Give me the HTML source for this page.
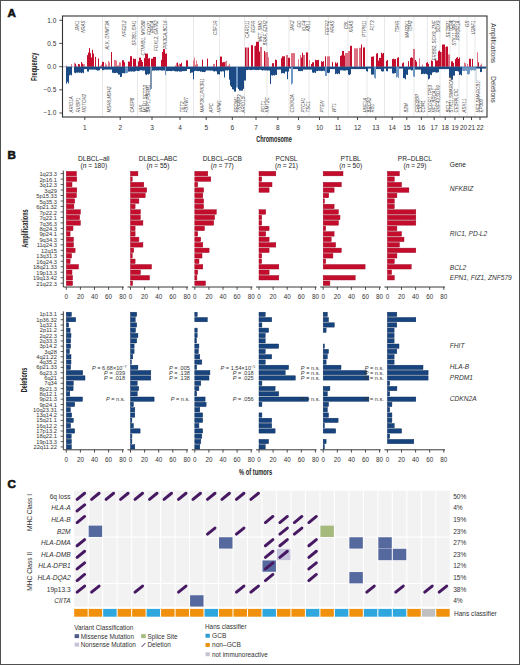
<!DOCTYPE html>
<html><head><meta charset="utf-8"><style>
html,body{margin:0;padding:0;background:#fff;}
svg{display:block;font-family:"Liberation Sans", sans-serif;}
</style></head><body>
<svg width="520" height="665" viewBox="0 0 520 665" font-family='"Liberation Sans", sans-serif'>
<rect width="520" height="665" fill="#fff"/>
<rect x="0.5" y="0.5" width="519" height="664" fill="none" stroke="#505050" stroke-width="1"/><text x="7.6" y="17.3" font-size="11.6" font-weight="bold" fill="#111" stroke="#111" stroke-width="0.6">A</text><text x="7.6" y="159.3" font-size="11.6" font-weight="bold" fill="#111" stroke="#111" stroke-width="0.6">B</text><text x="7.4" y="487.7" font-size="11.6" font-weight="bold" fill="#111" stroke="#111" stroke-width="0.6">C</text><line x1="102.5" y1="16.5" x2="102.5" y2="116.5" stroke="#dedede" stroke-width="0.7"/><line x1="137.5" y1="16.5" x2="137.5" y2="116.5" stroke="#dedede" stroke-width="0.7"/><line x1="166" y1="16.5" x2="166" y2="116.5" stroke="#dedede" stroke-width="0.7"/><line x1="193.5" y1="16.5" x2="193.5" y2="116.5" stroke="#dedede" stroke-width="0.7"/><line x1="219.5" y1="16.5" x2="219.5" y2="116.5" stroke="#dedede" stroke-width="0.7"/><line x1="244.5" y1="16.5" x2="244.5" y2="116.5" stroke="#dedede" stroke-width="0.7"/><line x1="267" y1="16.5" x2="267" y2="116.5" stroke="#dedede" stroke-width="0.7"/><line x1="289" y1="16.5" x2="289" y2="116.5" stroke="#dedede" stroke-width="0.7"/><line x1="309" y1="16.5" x2="309" y2="116.5" stroke="#dedede" stroke-width="0.7"/><line x1="328.5" y1="16.5" x2="328.5" y2="116.5" stroke="#dedede" stroke-width="0.7"/><line x1="348" y1="16.5" x2="348" y2="116.5" stroke="#dedede" stroke-width="0.7"/><line x1="367" y1="16.5" x2="367" y2="116.5" stroke="#dedede" stroke-width="0.7"/><line x1="384.5" y1="16.5" x2="384.5" y2="116.5" stroke="#dedede" stroke-width="0.7"/><line x1="400" y1="16.5" x2="400" y2="116.5" stroke="#dedede" stroke-width="0.7"/><line x1="414" y1="16.5" x2="414" y2="116.5" stroke="#dedede" stroke-width="0.7"/><line x1="427.3" y1="16.5" x2="427.3" y2="116.5" stroke="#dedede" stroke-width="0.7"/><line x1="440" y1="16.5" x2="440" y2="116.5" stroke="#dedede" stroke-width="0.7"/><line x1="450" y1="16.5" x2="450" y2="116.5" stroke="#dedede" stroke-width="0.7"/><line x1="459" y1="16.5" x2="459" y2="116.5" stroke="#dedede" stroke-width="0.7"/><line x1="467" y1="16.5" x2="467" y2="116.5" stroke="#dedede" stroke-width="0.7"/><line x1="475" y1="16.5" x2="475" y2="116.5" stroke="#dedede" stroke-width="0.7"/><g><rect x="66" y="65.40" width="1" height="1.40" fill="#e27586"/><rect x="71" y="64.00" width="1" height="2.80" fill="#e27586"/><rect x="74" y="62.84" width="1" height="3.96" fill="#e27586"/><rect x="75" y="63.71" width="1" height="3.09" fill="#c40d2c"/><rect x="76" y="65.58" width="1" height="1.22" fill="#e27586"/><rect x="78" y="63.97" width="1" height="2.83" fill="#c40d2c"/><rect x="79" y="64.31" width="1" height="2.49" fill="#c40d2c"/><rect x="81" y="61.98" width="1" height="4.82" fill="#c40d2c"/><rect x="82" y="63.59" width="1" height="3.21" fill="#c40d2c"/><rect x="83" y="64.20" width="1" height="2.60" fill="#e27586"/><rect x="84" y="64.20" width="1" height="2.60" fill="#e27586"/><rect x="87" y="55.15" width="1" height="11.65" fill="#c40d2c"/><rect x="88" y="52.51" width="1" height="14.29" fill="#c40d2c"/><rect x="89" y="48.10" width="1" height="18.70" fill="#c40d2c"/><rect x="90" y="53.27" width="1" height="13.53" fill="#c40d2c"/><rect x="91" y="57.46" width="1" height="9.34" fill="#c40d2c"/><rect x="92" y="49.80" width="1" height="17.00" fill="#c40d2c"/><rect x="93" y="53.58" width="1" height="13.22" fill="#c40d2c"/><rect x="95" y="56.87" width="1" height="9.93" fill="#c40d2c"/><rect x="98" y="58.50" width="1" height="8.30" fill="#c40d2c"/><rect x="100" y="65.61" width="1" height="1.19" fill="#e27586"/><rect x="101" y="64.50" width="1" height="2.30" fill="#e27586"/><rect x="102" y="61.90" width="1" height="4.90" fill="#c40d2c"/><rect x="103" y="61.90" width="1" height="4.90" fill="#c40d2c"/><rect x="105" y="62.85" width="1" height="3.95" fill="#e27586"/><rect x="106" y="64.71" width="1" height="2.09" fill="#e27586"/><rect x="108" y="60.95" width="1" height="5.85" fill="#e27586"/><rect x="109" y="62.29" width="1" height="4.51" fill="#e27586"/><rect x="111" y="52.10" width="1" height="14.70" fill="#c40d2c"/><rect x="114" y="59.83" width="1" height="6.97" fill="#e27586"/><rect x="115" y="60.03" width="1" height="6.77" fill="#e27586"/><rect x="116" y="60.83" width="1" height="5.97" fill="#e27586"/><rect x="117" y="65.47" width="1" height="1.33" fill="#e27586"/><rect x="118" y="65.25" width="1" height="1.55" fill="#e27586"/><rect x="119" y="62.21" width="1" height="4.59" fill="#e27586"/><rect x="120" y="62.40" width="1" height="4.40" fill="#e27586"/><rect x="122" y="60.20" width="1" height="6.60" fill="#c40d2c"/><rect x="123" y="60.20" width="1" height="6.60" fill="#c40d2c"/><rect x="124" y="62.26" width="1" height="4.54" fill="#c40d2c"/><rect x="128" y="61.53" width="1" height="5.27" fill="#c40d2c"/><rect x="129" y="61.68" width="1" height="5.12" fill="#c40d2c"/><rect x="130" y="56.20" width="1" height="10.60" fill="#c40d2c"/><rect x="131" y="56.20" width="1" height="10.60" fill="#c40d2c"/><rect x="133" y="58.51" width="1" height="8.29" fill="#c40d2c"/><rect x="134" y="59.09" width="1" height="7.71" fill="#c40d2c"/><rect x="135" y="58.78" width="1" height="8.02" fill="#c40d2c"/><rect x="136" y="65.53" width="1" height="1.27" fill="#e27586"/><rect x="137" y="65.94" width="1" height="0.86" fill="#e27586"/><rect x="138" y="61.41" width="1" height="5.39" fill="#c40d2c"/><rect x="139" y="57.60" width="1" height="9.20" fill="#c40d2c"/><rect x="140" y="57.60" width="1" height="9.20" fill="#c40d2c"/><rect x="141" y="60.09" width="1" height="6.71" fill="#c40d2c"/><rect x="142" y="61.96" width="1" height="4.84" fill="#c40d2c"/><rect x="144" y="58.10" width="1" height="8.70" fill="#c40d2c"/><rect x="145" y="53.60" width="1" height="13.20" fill="#c40d2c"/><rect x="146" y="53.60" width="1" height="13.20" fill="#c40d2c"/><rect x="147" y="53.60" width="1" height="13.20" fill="#c40d2c"/><rect x="148" y="58.56" width="1" height="8.24" fill="#c40d2c"/><rect x="149" y="58.04" width="1" height="8.76" fill="#c40d2c"/><rect x="151" y="58.72" width="1" height="8.08" fill="#c40d2c"/><rect x="152" y="58.67" width="1" height="8.13" fill="#c40d2c"/><rect x="153" y="56.90" width="1" height="9.90" fill="#c40d2c"/><rect x="154" y="56.90" width="1" height="9.90" fill="#c40d2c"/><rect x="155" y="56.90" width="1" height="9.90" fill="#c40d2c"/><rect x="161" y="59.89" width="1" height="6.91" fill="#c40d2c"/><rect x="162" y="52.00" width="1" height="14.80" fill="#c40d2c"/><rect x="163" y="49.10" width="1" height="17.70" fill="#c40d2c"/><rect x="164" y="49.10" width="1" height="17.70" fill="#c40d2c"/><rect x="165" y="53.67" width="1" height="13.13" fill="#c40d2c"/><rect x="166" y="53.45" width="1" height="13.35" fill="#c40d2c"/><rect x="175" y="65.38" width="1" height="1.42" fill="#e27586"/><rect x="176" y="63.07" width="1" height="3.73" fill="#e27586"/><rect x="177" y="62.48" width="1" height="4.32" fill="#c40d2c"/><rect x="178" y="64.76" width="1" height="2.04" fill="#e27586"/><rect x="179" y="63.53" width="1" height="3.27" fill="#e27586"/><rect x="180" y="64.00" width="1" height="2.80" fill="#c40d2c"/><rect x="181" y="62.78" width="1" height="4.02" fill="#c40d2c"/><rect x="182" y="66.30" width="1" height="0.50" fill="#e27586"/><rect x="186" y="60.30" width="1" height="6.50" fill="#c40d2c"/><rect x="187" y="60.30" width="1" height="6.50" fill="#c40d2c"/><rect x="193" y="60.49" width="1" height="6.31" fill="#e27586"/><rect x="194" y="57.57" width="1" height="9.23" fill="#e27586"/><rect x="195" y="64.71" width="1" height="2.09" fill="#e27586"/><rect x="196" y="60.65" width="1" height="6.15" fill="#e27586"/><rect x="197" y="63.97" width="1" height="2.83" fill="#e27586"/><rect x="202" y="59.60" width="1" height="7.20" fill="#c40d2c"/><rect x="207" y="58.60" width="1" height="8.20" fill="#c40d2c"/><rect x="213" y="63.90" width="1" height="2.90" fill="#e27586"/><rect x="214" y="63.90" width="1" height="2.90" fill="#e27586"/><rect x="216" y="60.00" width="1" height="6.80" fill="#c40d2c"/><rect x="220" y="56.52" width="1" height="10.28" fill="#c40d2c"/><rect x="221" y="56.63" width="1" height="10.17" fill="#c40d2c"/><rect x="222" y="62.44" width="1" height="4.36" fill="#c40d2c"/><rect x="223" y="62.04" width="1" height="4.76" fill="#c40d2c"/><rect x="224" y="62.11" width="1" height="4.69" fill="#c40d2c"/><rect x="225" y="61.32" width="1" height="5.48" fill="#e27586"/><rect x="226" y="60.60" width="1" height="6.20" fill="#e27586"/><rect x="227" y="65.86" width="1" height="0.94" fill="#e27586"/><rect x="228" y="65.46" width="1" height="1.34" fill="#e27586"/><rect x="229" y="63.79" width="1" height="3.01" fill="#e27586"/><rect x="245" y="47.50" width="1" height="19.30" fill="#c40d2c"/><rect x="246" y="47.50" width="1" height="19.30" fill="#dd6f82"/><rect x="247" y="47.50" width="1" height="19.30" fill="#dd6f82"/><rect x="248" y="47.50" width="1" height="19.30" fill="#c40d2c"/><rect x="251" y="45.20" width="1" height="21.60" fill="#c40d2c"/><rect x="252" y="45.20" width="1" height="21.60" fill="#c40d2c"/><rect x="254" y="46.00" width="1" height="20.80" fill="#dd6f82"/><rect x="255" y="45.76" width="1" height="21.04" fill="#c40d2c"/><rect x="256" y="41.80" width="1" height="25.00" fill="#c40d2c"/><rect x="257" y="41.80" width="1" height="25.00" fill="#c40d2c"/><rect x="258" y="41.80" width="1" height="25.00" fill="#c40d2c"/><rect x="259" y="51.53" width="1" height="15.27" fill="#c40d2c"/><rect x="260" y="47.00" width="1" height="19.80" fill="#dd6f82"/><rect x="261" y="47.00" width="1" height="19.80" fill="#dd6f82"/><rect x="264" y="51.00" width="1" height="15.80" fill="#c40d2c"/><rect x="265" y="52.20" width="1" height="14.60" fill="#dd6f82"/><rect x="266" y="52.20" width="1" height="14.60" fill="#dd6f82"/><rect x="267" y="52.20" width="1" height="14.60" fill="#dd6f82"/><rect x="268" y="57.30" width="1" height="9.50" fill="#e27586"/><rect x="272" y="63.20" width="1" height="3.60" fill="#c40d2c"/><rect x="273" y="63.21" width="1" height="3.59" fill="#c40d2c"/><rect x="275" y="59.67" width="1" height="7.13" fill="#c40d2c"/><rect x="276" y="59.97" width="1" height="6.83" fill="#c40d2c"/><rect x="281" y="58.18" width="1" height="8.62" fill="#c40d2c"/><rect x="282" y="56.30" width="1" height="10.50" fill="#c40d2c"/><rect x="283" y="56.30" width="1" height="10.50" fill="#c40d2c"/><rect x="284" y="56.30" width="1" height="10.50" fill="#c40d2c"/><rect x="286" y="55.00" width="1" height="11.80" fill="#dd6f82"/><rect x="287" y="55.00" width="1" height="11.80" fill="#dd6f82"/><rect x="288" y="57.81" width="1" height="8.99" fill="#c40d2c"/><rect x="289" y="57.65" width="1" height="9.15" fill="#c40d2c"/><rect x="291" y="53.10" width="1" height="13.70" fill="#dd6f82"/><rect x="292" y="53.10" width="1" height="13.70" fill="#dd6f82"/><rect x="293" y="53.10" width="1" height="13.70" fill="#dd6f82"/><rect x="294" y="53.10" width="1" height="13.70" fill="#dd6f82"/><rect x="298" y="59.32" width="1" height="7.48" fill="#e27586"/><rect x="300" y="55.00" width="1" height="11.80" fill="#dd6f82"/><rect x="301" y="57.62" width="1" height="9.18" fill="#c40d2c"/><rect x="302" y="52.68" width="1" height="14.12" fill="#c40d2c"/><rect x="303" y="55.00" width="1" height="11.80" fill="#dd6f82"/><rect x="304" y="55.00" width="1" height="11.80" fill="#dd6f82"/><rect x="306" y="52.40" width="1" height="14.40" fill="#c40d2c"/><rect x="307" y="52.40" width="1" height="14.40" fill="#c40d2c"/><rect x="309" y="60.02" width="1" height="6.78" fill="#e27586"/><rect x="311" y="64.02" width="1" height="2.78" fill="#c40d2c"/><rect x="312" y="62.36" width="1" height="4.44" fill="#c40d2c"/><rect x="313" y="62.23" width="1" height="4.57" fill="#c40d2c"/><rect x="315" y="59.69" width="1" height="7.11" fill="#c40d2c"/><rect x="316" y="60.17" width="1" height="6.63" fill="#c40d2c"/><rect x="317" y="60.11" width="1" height="6.69" fill="#c40d2c"/><rect x="318" y="59.90" width="1" height="6.90" fill="#c40d2c"/><rect x="321" y="61.24" width="1" height="5.56" fill="#c40d2c"/><rect x="322" y="61.92" width="1" height="4.88" fill="#c40d2c"/><rect x="323" y="61.22" width="1" height="5.58" fill="#c40d2c"/><rect x="325" y="56.30" width="1" height="10.50" fill="#c40d2c"/><rect x="327" y="56.30" width="1" height="10.50" fill="#dd6f82"/><rect x="328" y="56.30" width="1" height="10.50" fill="#dd6f82"/><rect x="329" y="56.30" width="1" height="10.50" fill="#dd6f82"/><rect x="332" y="62.10" width="1" height="4.70" fill="#c40d2c"/><rect x="335" y="62.32" width="1" height="4.48" fill="#c40d2c"/><rect x="336" y="63.46" width="1" height="3.34" fill="#c40d2c"/><rect x="337" y="62.57" width="1" height="4.23" fill="#c40d2c"/><rect x="340" y="55.98" width="1" height="10.82" fill="#c40d2c"/><rect x="341" y="55.32" width="1" height="11.48" fill="#c40d2c"/><rect x="342" y="51.00" width="1" height="15.80" fill="#c40d2c"/><rect x="343" y="51.00" width="1" height="15.80" fill="#c40d2c"/><rect x="344" y="55.52" width="1" height="11.28" fill="#c40d2c"/><rect x="345" y="53.00" width="1" height="13.80" fill="#dd6f82"/><rect x="346" y="53.00" width="1" height="13.80" fill="#dd6f82"/><rect x="347" y="53.00" width="1" height="13.80" fill="#dd6f82"/><rect x="348" y="51.00" width="1" height="15.80" fill="#dd6f82"/><rect x="349" y="51.00" width="1" height="15.80" fill="#dd6f82"/><rect x="350" y="45.80" width="1" height="21.00" fill="#c40d2c"/><rect x="351" y="45.80" width="1" height="21.00" fill="#c40d2c"/><rect x="354" y="48.30" width="1" height="18.50" fill="#dd6f82"/><rect x="355" y="48.30" width="1" height="18.50" fill="#dd6f82"/><rect x="356" y="48.30" width="1" height="18.50" fill="#dd6f82"/><rect x="357" y="48.30" width="1" height="18.50" fill="#dd6f82"/><rect x="359" y="47.80" width="1" height="19.00" fill="#dd6f82"/><rect x="360" y="47.80" width="1" height="19.00" fill="#dd6f82"/><rect x="361" y="44.50" width="1" height="22.30" fill="#c40d2c"/><rect x="363" y="47.40" width="1" height="19.40" fill="#c40d2c"/><rect x="364" y="47.40" width="1" height="19.40" fill="#c40d2c"/><rect x="371" y="56.85" width="1" height="9.95" fill="#c40d2c"/><rect x="372" y="56.62" width="1" height="10.18" fill="#c40d2c"/><rect x="373" y="56.36" width="1" height="10.44" fill="#c40d2c"/><rect x="376" y="53.61" width="1" height="13.19" fill="#c40d2c"/><rect x="377" y="53.22" width="1" height="13.58" fill="#c40d2c"/><rect x="378" y="60.62" width="1" height="6.18" fill="#c40d2c"/><rect x="379" y="57.91" width="1" height="8.89" fill="#c40d2c"/><rect x="380" y="57.91" width="1" height="8.89" fill="#c40d2c"/><rect x="381" y="52.71" width="1" height="14.09" fill="#c40d2c"/><rect x="382" y="53.62" width="1" height="13.18" fill="#c40d2c"/><rect x="383" y="52.89" width="1" height="13.91" fill="#c40d2c"/><rect x="386" y="60.81" width="1" height="5.99" fill="#c40d2c"/><rect x="387" y="60.07" width="1" height="6.73" fill="#c40d2c"/><rect x="392" y="59.09" width="1" height="7.71" fill="#c40d2c"/><rect x="393" y="58.61" width="1" height="8.19" fill="#c40d2c"/><rect x="394" y="59.29" width="1" height="7.51" fill="#c40d2c"/><rect x="395" y="59.00" width="1" height="7.80" fill="#c40d2c"/><rect x="397" y="57.79" width="1" height="9.01" fill="#c40d2c"/><rect x="398" y="57.27" width="1" height="9.53" fill="#c40d2c"/><rect x="402" y="63.26" width="1" height="3.54" fill="#c40d2c"/><rect x="403" y="62.47" width="1" height="4.33" fill="#c40d2c"/><rect x="408" y="61.22" width="1" height="5.58" fill="#c40d2c"/><rect x="410" y="57.92" width="1" height="8.88" fill="#c40d2c"/><rect x="411" y="57.21" width="1" height="9.59" fill="#c40d2c"/><rect x="412" y="57.88" width="1" height="8.92" fill="#c40d2c"/><rect x="413" y="49.00" width="1" height="17.80" fill="#dd6f82"/><rect x="414" y="49.00" width="1" height="17.80" fill="#dd6f82"/><rect x="415" y="60.03" width="1" height="6.77" fill="#c40d2c"/><rect x="416" y="61.65" width="1" height="5.15" fill="#c40d2c"/><rect x="419" y="58.24" width="1" height="8.56" fill="#e27586"/><rect x="422" y="64.50" width="1" height="2.30" fill="#e27586"/><rect x="426" y="62.82" width="1" height="3.98" fill="#c40d2c"/><rect x="427" y="62.14" width="1" height="4.66" fill="#c40d2c"/><rect x="428" y="63.85" width="1" height="2.95" fill="#c40d2c"/><rect x="431" y="60.39" width="1" height="6.41" fill="#c40d2c"/><rect x="432" y="61.12" width="1" height="5.68" fill="#c40d2c"/><rect x="435" y="59.15" width="1" height="7.65" fill="#c40d2c"/><rect x="436" y="60.45" width="1" height="6.35" fill="#c40d2c"/><rect x="437" y="60.44" width="1" height="6.36" fill="#c40d2c"/><rect x="438" y="51.48" width="1" height="15.32" fill="#c40d2c"/><rect x="439" y="50.52" width="1" height="16.28" fill="#c40d2c"/><rect x="440" y="51.83" width="1" height="14.97" fill="#c40d2c"/><rect x="441" y="52.00" width="1" height="14.80" fill="#dd6f82"/><rect x="442" y="44.50" width="1" height="22.30" fill="#c40d2c"/><rect x="443" y="44.50" width="1" height="22.30" fill="#c40d2c"/><rect x="444" y="44.50" width="1" height="22.30" fill="#c40d2c"/><rect x="445" y="47.00" width="1" height="19.80" fill="#dd6f82"/><rect x="446" y="46.50" width="1" height="20.30" fill="#c40d2c"/><rect x="447" y="46.50" width="1" height="20.30" fill="#c40d2c"/><rect x="448" y="54.40" width="1" height="12.40" fill="#dd6f82"/><rect x="449" y="54.40" width="1" height="12.40" fill="#dd6f82"/><rect x="451" y="61.29" width="1" height="5.51" fill="#c40d2c"/><rect x="452" y="61.38" width="1" height="5.42" fill="#c40d2c"/><rect x="453" y="62.96" width="1" height="3.84" fill="#c40d2c"/><rect x="455" y="59.12" width="1" height="7.68" fill="#c40d2c"/><rect x="456" y="57.79" width="1" height="9.01" fill="#c40d2c"/><rect x="457" y="57.06" width="1" height="9.74" fill="#c40d2c"/><rect x="458" y="58.91" width="1" height="7.89" fill="#c40d2c"/><rect x="459" y="57.49" width="1" height="9.31" fill="#c40d2c"/><rect x="464" y="62.44" width="1" height="4.36" fill="#e27586"/><rect x="465" y="63.24" width="1" height="3.56" fill="#e27586"/><rect x="467" y="64.00" width="1" height="2.80" fill="#e27586"/><rect x="469" y="58.80" width="1" height="8.00" fill="#c40d2c"/><rect x="470" y="58.80" width="1" height="8.00" fill="#c40d2c"/><rect x="472" y="58.80" width="1" height="8.00" fill="#c40d2c"/><rect x="477" y="52.30" width="1" height="14.50" fill="#dd6f82"/><rect x="478" y="62.31" width="1" height="4.49" fill="#c40d2c"/><rect x="480" y="65.01" width="1" height="1.79" fill="#e27586"/><rect x="481" y="63.51" width="1" height="3.29" fill="#e27586"/><rect x="66" y="66.80" width="1" height="16.80" fill="#1b4a84"/><rect x="67" y="66.80" width="1" height="14.95" fill="#1b4a84"/><rect x="68" y="66.80" width="1" height="16.54" fill="#1b4a84"/><rect x="69" y="66.80" width="1" height="8.60" fill="#1b4a84"/><rect x="70" y="66.80" width="1" height="7.87" fill="#1b4a84"/><rect x="71" y="66.80" width="1" height="8.54" fill="#1b4a84"/><rect x="74" y="66.80" width="1" height="5.83" fill="#1b4a84"/><rect x="75" y="66.80" width="1" height="6.38" fill="#1b4a84"/><rect x="76" y="66.80" width="1" height="5.82" fill="#1b4a84"/><rect x="77" y="66.80" width="1" height="5.87" fill="#1b4a84"/><rect x="78" y="66.80" width="1" height="5.63" fill="#1b4a84"/><rect x="79" y="66.80" width="1" height="6.00" fill="#1b4a84"/><rect x="80" y="66.80" width="1" height="5.79" fill="#1b4a84"/><rect x="81" y="66.80" width="1" height="6.40" fill="#1b4a84"/><rect x="82" y="66.80" width="1" height="5.70" fill="#1b4a84"/><rect x="83" y="66.80" width="1" height="6.40" fill="#1b4a84"/><rect x="84" y="66.80" width="1" height="2.30" fill="#1b4a84"/><rect x="85" y="66.80" width="1" height="2.30" fill="#1b4a84"/><rect x="86" y="66.80" width="1" height="2.30" fill="#1b4a84"/><rect x="87" y="66.80" width="1" height="4.72" fill="#1b4a84"/><rect x="88" y="66.80" width="1" height="4.79" fill="#1b4a84"/><rect x="89" y="66.80" width="1" height="2.80" fill="#1b4a84"/><rect x="90" y="66.80" width="1" height="2.80" fill="#1b4a84"/><rect x="91" y="66.80" width="1" height="2.80" fill="#1b4a84"/><rect x="92" y="66.80" width="1" height="2.80" fill="#1b4a84"/><rect x="93" y="66.80" width="1" height="2.80" fill="#1b4a84"/><rect x="94" y="66.80" width="1" height="2.80" fill="#1b4a84"/><rect x="95" y="66.80" width="1" height="2.80" fill="#1b4a84"/><rect x="96" y="66.80" width="1" height="3.36" fill="#1b4a84"/><rect x="97" y="66.80" width="1" height="3.75" fill="#1b4a84"/><rect x="98" y="66.80" width="1" height="3.68" fill="#1b4a84"/><rect x="99" y="66.80" width="1" height="3.41" fill="#1b4a84"/><rect x="100" y="66.80" width="1" height="1.80" fill="#1b4a84"/><rect x="101" y="66.80" width="1" height="1.80" fill="#1b4a84"/><rect x="102" y="66.80" width="1" height="3.42" fill="#1b4a84"/><rect x="103" y="66.80" width="1" height="3.33" fill="#1b4a84"/><rect x="104" y="66.80" width="1" height="2.80" fill="#1b4a84"/><rect x="105" y="66.80" width="1" height="2.80" fill="#1b4a84"/><rect x="106" y="66.80" width="1" height="2.80" fill="#1b4a84"/><rect x="107" y="66.80" width="1" height="2.80" fill="#1b4a84"/><rect x="108" y="66.80" width="1" height="2.80" fill="#1b4a84"/><rect x="109" y="66.80" width="1" height="2.80" fill="#1b4a84"/><rect x="110" y="66.80" width="1" height="2.80" fill="#1b4a84"/><rect x="111" y="66.80" width="1" height="2.80" fill="#1b4a84"/><rect x="112" y="66.80" width="1" height="5.97" fill="#1b4a84"/><rect x="113" y="66.80" width="1" height="6.02" fill="#1b4a84"/><rect x="114" y="66.80" width="1" height="6.30" fill="#1b4a84"/><rect x="115" y="66.80" width="1" height="6.15" fill="#1b4a84"/><rect x="116" y="66.80" width="1" height="5.92" fill="#1b4a84"/><rect x="117" y="66.80" width="1" height="6.30" fill="#1b4a84"/><rect x="118" y="66.80" width="1" height="7.80" fill="#1b4a84"/><rect x="119" y="66.80" width="1" height="7.80" fill="#1b4a84"/><rect x="120" y="66.80" width="1" height="10.20" fill="#1b4a84"/><rect x="121" y="66.80" width="1" height="9.88" fill="#1b4a84"/><rect x="122" y="66.80" width="1" height="6.39" fill="#1b4a84"/><rect x="123" y="66.80" width="1" height="6.37" fill="#1b4a84"/><rect x="124" y="66.80" width="1" height="6.61" fill="#1b4a84"/><rect x="125" y="66.80" width="1" height="6.30" fill="#6f97c4"/><rect x="126" y="66.80" width="1" height="6.30" fill="#6f97c4"/><rect x="127" y="66.80" width="1" height="6.11" fill="#6f97c4"/><rect x="128" y="66.80" width="1" height="4.80" fill="#1b4a84"/><rect x="129" y="66.80" width="1" height="4.80" fill="#1b4a84"/><rect x="130" y="66.80" width="1" height="4.61" fill="#1b4a84"/><rect x="131" y="66.80" width="1" height="4.80" fill="#1b4a84"/><rect x="132" y="66.80" width="1" height="4.52" fill="#1b4a84"/><rect x="133" y="66.80" width="1" height="4.80" fill="#1b4a84"/><rect x="134" y="66.80" width="1" height="4.80" fill="#1b4a84"/><rect x="135" y="66.80" width="1" height="4.29" fill="#1b4a84"/><rect x="136" y="66.80" width="1" height="3.79" fill="#1b4a84"/><rect x="137" y="66.80" width="1" height="4.21" fill="#1b4a84"/><rect x="138" y="66.80" width="1" height="4.30" fill="#1b4a84"/><rect x="139" y="66.80" width="1" height="3.89" fill="#1b4a84"/><rect x="140" y="66.80" width="1" height="3.44" fill="#1b4a84"/><rect x="141" y="66.80" width="1" height="3.41" fill="#1b4a84"/><rect x="142" y="66.80" width="1" height="3.80" fill="#1b4a84"/><rect x="143" y="66.80" width="1" height="3.72" fill="#1b4a84"/><rect x="144" y="66.80" width="1" height="3.75" fill="#1b4a84"/><rect x="145" y="66.80" width="1" height="7.53" fill="#1b4a84"/><rect x="146" y="66.80" width="1" height="8.30" fill="#1b4a84"/><rect x="147" y="66.80" width="1" height="7.31" fill="#1b4a84"/><rect x="148" y="66.80" width="1" height="7.75" fill="#1b4a84"/><rect x="149" y="66.80" width="1" height="7.00" fill="#1b4a84"/><rect x="150" y="66.80" width="1" height="23.04" fill="#8196b0"/><rect x="151" y="66.80" width="1" height="22.09" fill="#8196b0"/><rect x="152" y="66.80" width="1" height="3.80" fill="#1b4a84"/><rect x="153" y="66.80" width="1" height="3.77" fill="#1b4a84"/><rect x="154" y="66.80" width="1" height="3.80" fill="#1b4a84"/><rect x="155" y="66.80" width="1" height="3.51" fill="#1b4a84"/><rect x="156" y="66.80" width="1" height="3.80" fill="#1b4a84"/><rect x="157" y="66.80" width="1" height="3.51" fill="#1b4a84"/><rect x="158" y="66.80" width="1" height="3.80" fill="#1b4a84"/><rect x="159" y="66.80" width="1" height="3.39" fill="#1b4a84"/><rect x="160" y="66.80" width="1" height="3.47" fill="#1b4a84"/><rect x="161" y="66.80" width="1" height="3.80" fill="#1b4a84"/><rect x="162" y="66.80" width="1" height="3.80" fill="#1b4a84"/><rect x="163" y="66.80" width="1" height="3.51" fill="#1b4a84"/><rect x="164" y="66.80" width="1" height="3.75" fill="#1b4a84"/><rect x="165" y="66.80" width="1" height="8.41" fill="#6f97c4"/><rect x="166" y="66.80" width="1" height="4.27" fill="#1b4a84"/><rect x="167" y="66.80" width="1" height="4.30" fill="#1b4a84"/><rect x="168" y="66.80" width="1" height="4.16" fill="#1b4a84"/><rect x="169" y="66.80" width="1" height="4.17" fill="#1b4a84"/><rect x="170" y="66.80" width="1" height="4.30" fill="#1b4a84"/><rect x="171" y="66.80" width="1" height="4.30" fill="#1b4a84"/><rect x="172" y="66.80" width="1" height="4.03" fill="#1b4a84"/><rect x="173" y="66.80" width="1" height="3.94" fill="#1b4a84"/><rect x="174" y="66.80" width="1" height="4.30" fill="#1b4a84"/><rect x="175" y="66.80" width="1" height="4.60" fill="#1b4a84"/><rect x="176" y="66.80" width="1" height="4.55" fill="#1b4a84"/><rect x="177" y="66.80" width="1" height="4.80" fill="#1b4a84"/><rect x="178" y="66.80" width="1" height="4.34" fill="#1b4a84"/><rect x="179" y="66.80" width="1" height="4.80" fill="#1b4a84"/><rect x="180" y="66.80" width="1" height="4.75" fill="#1b4a84"/><rect x="181" y="66.80" width="1" height="4.80" fill="#1b4a84"/><rect x="182" y="66.80" width="1" height="4.30" fill="#1b4a84"/><rect x="183" y="66.80" width="1" height="4.30" fill="#1b4a84"/><rect x="184" y="66.80" width="1" height="4.30" fill="#1b4a84"/><rect x="185" y="66.80" width="1" height="4.08" fill="#1b4a84"/><rect x="186" y="66.80" width="1" height="4.17" fill="#1b4a84"/><rect x="187" y="66.80" width="1" height="2.30" fill="#1b4a84"/><rect x="188" y="66.80" width="1" height="2.30" fill="#1b4a84"/><rect x="189" y="66.80" width="1" height="2.30" fill="#1b4a84"/><rect x="190" y="66.80" width="1" height="6.30" fill="#1b4a84"/><rect x="191" y="66.80" width="1" height="5.75" fill="#1b4a84"/><rect x="192" y="66.80" width="1" height="5.64" fill="#1b4a84"/><rect x="193" y="66.80" width="1" height="12.52" fill="#1b4a84"/><rect x="194" y="66.80" width="1" height="4.40" fill="#1b4a84"/><rect x="195" y="66.80" width="1" height="4.00" fill="#1b4a84"/><rect x="196" y="66.80" width="1" height="4.11" fill="#1b4a84"/><rect x="197" y="66.80" width="1" height="4.32" fill="#1b4a84"/><rect x="198" y="66.80" width="1" height="4.40" fill="#1b4a84"/><rect x="199" y="66.80" width="1" height="4.25" fill="#1b4a84"/><rect x="200" y="66.80" width="1" height="4.96" fill="#1b4a84"/><rect x="201" y="66.80" width="1" height="4.66" fill="#1b4a84"/><rect x="202" y="66.80" width="1" height="5.25" fill="#1b4a84"/><rect x="203" y="66.80" width="1" height="5.21" fill="#1b4a84"/><rect x="204" y="66.80" width="1" height="5.30" fill="#1b4a84"/><rect x="205" y="66.80" width="1" height="4.76" fill="#1b4a84"/><rect x="206" y="66.80" width="1" height="3.66" fill="#1b4a84"/><rect x="207" y="66.80" width="1" height="3.67" fill="#1b4a84"/><rect x="208" y="66.80" width="1" height="3.69" fill="#1b4a84"/><rect x="209" y="66.80" width="1" height="3.80" fill="#1b4a84"/><rect x="210" y="66.80" width="1" height="3.80" fill="#1b4a84"/><rect x="211" y="66.80" width="1" height="3.76" fill="#1b4a84"/><rect x="212" y="66.80" width="1" height="3.80" fill="#1b4a84"/><rect x="213" y="66.80" width="1" height="4.37" fill="#1b4a84"/><rect x="214" y="66.80" width="1" height="4.80" fill="#1b4a84"/><rect x="215" y="66.80" width="1" height="4.26" fill="#1b4a84"/><rect x="216" y="66.80" width="1" height="4.56" fill="#1b4a84"/><rect x="217" y="66.80" width="1" height="7.53" fill="#1b4a84"/><rect x="218" y="66.80" width="1" height="7.31" fill="#1b4a84"/><rect x="219" y="66.80" width="1" height="7.76" fill="#1b4a84"/><rect x="220" y="66.80" width="1" height="4.60" fill="#1b4a84"/><rect x="221" y="66.80" width="1" height="4.80" fill="#1b4a84"/><rect x="222" y="66.80" width="1" height="4.37" fill="#1b4a84"/><rect x="223" y="66.80" width="1" height="4.63" fill="#1b4a84"/><rect x="224" y="66.80" width="1" height="10.68" fill="#1b4a84"/><rect x="225" y="66.80" width="1" height="3.65" fill="#1b4a84"/><rect x="226" y="66.80" width="1" height="3.46" fill="#1b4a84"/><rect x="227" y="66.80" width="1" height="3.80" fill="#1b4a84"/><rect x="228" y="66.80" width="1" height="3.36" fill="#1b4a84"/><rect x="229" y="66.80" width="1" height="12.84" fill="#1b4a84"/><rect x="230" y="66.80" width="1" height="18.80" fill="#1b4a84"/><rect x="231" y="66.80" width="1" height="20.15" fill="#1b4a84"/><rect x="232" y="66.80" width="1" height="22.43" fill="#1b4a84"/><rect x="233" y="66.80" width="1" height="22.75" fill="#1b4a84"/><rect x="234" y="66.80" width="1" height="24.80" fill="#1b4a84"/><rect x="235" y="66.80" width="1" height="24.80" fill="#1b4a84"/><rect x="236" y="66.80" width="1" height="20.68" fill="#6f97c4"/><rect x="237" y="66.80" width="1" height="20.80" fill="#6f97c4"/><rect x="238" y="66.80" width="1" height="22.14" fill="#1b4a84"/><rect x="239" y="66.80" width="1" height="23.80" fill="#1b4a84"/><rect x="240" y="66.80" width="1" height="23.80" fill="#1b4a84"/><rect x="241" y="66.80" width="1" height="23.80" fill="#1b4a84"/><rect x="242" y="66.80" width="1" height="23.80" fill="#1b4a84"/><rect x="243" y="66.80" width="1" height="22.07" fill="#1b4a84"/><rect x="244" y="66.80" width="1" height="13.61" fill="#1b4a84"/><rect x="245" y="66.80" width="1" height="13.80" fill="#1b4a84"/><rect x="246" y="66.80" width="1" height="3.30" fill="#1b4a84"/><rect x="247" y="66.80" width="1" height="3.27" fill="#1b4a84"/><rect x="248" y="66.80" width="1" height="2.92" fill="#1b4a84"/><rect x="249" y="66.80" width="1" height="3.05" fill="#1b4a84"/><rect x="250" y="66.80" width="1" height="3.30" fill="#1b4a84"/><rect x="251" y="66.80" width="1" height="3.30" fill="#1b4a84"/><rect x="252" y="66.80" width="1" height="3.04" fill="#1b4a84"/><rect x="253" y="66.80" width="1" height="2.95" fill="#1b4a84"/><rect x="254" y="66.80" width="1" height="2.99" fill="#1b4a84"/><rect x="255" y="66.80" width="1" height="3.23" fill="#1b4a84"/><rect x="256" y="66.80" width="1" height="3.30" fill="#1b4a84"/><rect x="257" y="66.80" width="1" height="3.09" fill="#1b4a84"/><rect x="258" y="66.80" width="1" height="3.30" fill="#1b4a84"/><rect x="259" y="66.80" width="1" height="3.05" fill="#1b4a84"/><rect x="260" y="66.80" width="1" height="2.92" fill="#1b4a84"/><rect x="261" y="66.80" width="1" height="3.23" fill="#1b4a84"/><rect x="262" y="66.80" width="1" height="3.80" fill="#1b4a84"/><rect x="263" y="66.80" width="1" height="3.37" fill="#1b4a84"/><rect x="264" y="66.80" width="1" height="3.46" fill="#1b4a84"/><rect x="265" y="66.80" width="1" height="3.75" fill="#1b4a84"/><rect x="266" y="66.80" width="1" height="3.47" fill="#1b4a84"/><rect x="267" y="66.80" width="1" height="3.80" fill="#1b4a84"/><rect x="268" y="66.80" width="1" height="3.67" fill="#1b4a84"/><rect x="269" y="66.80" width="1" height="3.80" fill="#1b4a84"/><rect x="270" y="66.80" width="1" height="17.28" fill="#1b4a84"/><rect x="271" y="66.80" width="1" height="8.41" fill="#1b4a84"/><rect x="272" y="66.80" width="1" height="8.80" fill="#1b4a84"/><rect x="273" y="66.80" width="1" height="8.25" fill="#1b4a84"/><rect x="274" y="66.80" width="1" height="8.75" fill="#1b4a84"/><rect x="275" y="66.80" width="1" height="8.01" fill="#1b4a84"/><rect x="276" y="66.80" width="1" height="8.27" fill="#1b4a84"/><rect x="277" y="66.80" width="1" height="2.80" fill="#1b4a84"/><rect x="278" y="66.80" width="1" height="2.80" fill="#1b4a84"/><rect x="279" y="66.80" width="1" height="2.80" fill="#1b4a84"/><rect x="280" y="66.80" width="1" height="2.80" fill="#1b4a84"/><rect x="281" y="66.80" width="1" height="6.61" fill="#1b4a84"/><rect x="282" y="66.80" width="1" height="6.25" fill="#1b4a84"/><rect x="283" y="66.80" width="1" height="6.28" fill="#1b4a84"/><rect x="284" y="66.80" width="1" height="6.80" fill="#1b4a84"/><rect x="285" y="66.80" width="1" height="4.80" fill="#1b4a84"/><rect x="286" y="66.80" width="1" height="4.80" fill="#1b4a84"/><rect x="287" y="66.80" width="1" height="12.40" fill="#1b4a84"/><rect x="288" y="66.80" width="1" height="4.79" fill="#1b4a84"/><rect x="289" y="66.80" width="1" height="1.80" fill="#1b4a84"/><rect x="290" y="66.80" width="1" height="1.80" fill="#1b4a84"/><rect x="291" y="66.80" width="1" height="17.80" fill="#6f97c4"/><rect x="292" y="66.80" width="1" height="16.73" fill="#6f97c4"/><rect x="293" y="66.80" width="1" height="2.30" fill="#1b4a84"/><rect x="294" y="66.80" width="1" height="2.30" fill="#1b4a84"/><rect x="295" y="66.80" width="1" height="2.30" fill="#1b4a84"/><rect x="296" y="66.80" width="1" height="2.30" fill="#1b4a84"/><rect x="297" y="66.80" width="1" height="2.30" fill="#1b4a84"/><rect x="298" y="66.80" width="1" height="4.17" fill="#1b4a84"/><rect x="299" y="66.80" width="1" height="4.30" fill="#1b4a84"/><rect x="300" y="66.80" width="1" height="4.30" fill="#1b4a84"/><rect x="301" y="66.80" width="1" height="4.08" fill="#1b4a84"/><rect x="302" y="66.80" width="1" height="4.30" fill="#1b4a84"/><rect x="303" y="66.80" width="1" height="2.80" fill="#1b4a84"/><rect x="304" y="66.80" width="1" height="2.80" fill="#1b4a84"/><rect x="305" y="66.80" width="1" height="2.80" fill="#1b4a84"/><rect x="306" y="66.80" width="1" height="2.80" fill="#1b4a84"/><rect x="307" y="66.80" width="1" height="2.80" fill="#1b4a84"/><rect x="308" y="66.80" width="1" height="2.80" fill="#1b4a84"/><rect x="309" y="66.80" width="1" height="2.80" fill="#1b4a84"/><rect x="310" y="66.80" width="1" height="2.80" fill="#1b4a84"/><rect x="311" y="66.80" width="1" height="2.80" fill="#1b4a84"/><rect x="312" y="66.80" width="1" height="5.72" fill="#1b4a84"/><rect x="313" y="66.80" width="1" height="6.04" fill="#1b4a84"/><rect x="314" y="66.80" width="1" height="5.62" fill="#1b4a84"/><rect x="315" y="66.80" width="1" height="6.16" fill="#1b4a84"/><rect x="316" y="66.80" width="1" height="4.30" fill="#1b4a84"/><rect x="317" y="66.80" width="1" height="4.30" fill="#1b4a84"/><rect x="318" y="66.80" width="1" height="3.88" fill="#1b4a84"/><rect x="319" y="66.80" width="1" height="4.08" fill="#1b4a84"/><rect x="320" y="66.80" width="1" height="3.98" fill="#1b4a84"/><rect x="321" y="66.80" width="1" height="4.30" fill="#1b4a84"/><rect x="322" y="66.80" width="1" height="4.19" fill="#1b4a84"/><rect x="323" y="66.80" width="1" height="3.84" fill="#1b4a84"/><rect x="324" y="66.80" width="1" height="4.30" fill="#1b4a84"/><rect x="325" y="66.80" width="1" height="9.20" fill="#6f97c4"/><rect x="326" y="66.80" width="1" height="9.20" fill="#6f97c4"/><rect x="327" y="66.80" width="1" height="6.00" fill="#1b4a84"/><rect x="328" y="66.80" width="1" height="6.30" fill="#1b4a84"/><rect x="329" y="66.80" width="1" height="5.79" fill="#1b4a84"/><rect x="330" y="66.80" width="1" height="2.30" fill="#1b4a84"/><rect x="331" y="66.80" width="1" height="2.30" fill="#1b4a84"/><rect x="332" y="66.80" width="1" height="2.30" fill="#1b4a84"/><rect x="333" y="66.80" width="1" height="2.30" fill="#1b4a84"/><rect x="334" y="66.80" width="1" height="2.30" fill="#1b4a84"/><rect x="335" y="66.80" width="1" height="7.30" fill="#1b4a84"/><rect x="336" y="66.80" width="1" height="6.77" fill="#1b4a84"/><rect x="337" y="66.80" width="1" height="7.30" fill="#1b4a84"/><rect x="338" y="66.80" width="1" height="6.57" fill="#1b4a84"/><rect x="339" y="66.80" width="1" height="7.30" fill="#1b4a84"/><rect x="340" y="66.80" width="1" height="3.48" fill="#1b4a84"/><rect x="341" y="66.80" width="1" height="3.49" fill="#1b4a84"/><rect x="342" y="66.80" width="1" height="3.51" fill="#1b4a84"/><rect x="343" y="66.80" width="1" height="3.74" fill="#1b4a84"/><rect x="344" y="66.80" width="1" height="3.80" fill="#1b4a84"/><rect x="345" y="66.80" width="1" height="3.80" fill="#1b4a84"/><rect x="346" y="66.80" width="1" height="3.35" fill="#1b4a84"/><rect x="347" y="66.80" width="1" height="3.54" fill="#1b4a84"/><rect x="348" y="66.80" width="1" height="7.71" fill="#1b4a84"/><rect x="349" y="66.80" width="1" height="8.30" fill="#1b4a84"/><rect x="350" y="66.80" width="1" height="7.32" fill="#1b4a84"/><rect x="351" y="66.80" width="1" height="2.30" fill="#1b4a84"/><rect x="352" y="66.80" width="1" height="2.30" fill="#1b4a84"/><rect x="353" y="66.80" width="1" height="2.30" fill="#1b4a84"/><rect x="354" y="66.80" width="1" height="2.30" fill="#1b4a84"/><rect x="355" y="66.80" width="1" height="2.30" fill="#1b4a84"/><rect x="356" y="66.80" width="1" height="2.30" fill="#1b4a84"/><rect x="357" y="66.80" width="1" height="2.30" fill="#1b4a84"/><rect x="358" y="66.80" width="1" height="2.30" fill="#1b4a84"/><rect x="359" y="66.80" width="1" height="2.30" fill="#1b4a84"/><rect x="360" y="66.80" width="1" height="2.30" fill="#1b4a84"/><rect x="361" y="66.80" width="1" height="2.30" fill="#1b4a84"/><rect x="362" y="66.80" width="1" height="2.30" fill="#1b4a84"/><rect x="363" y="66.80" width="1" height="2.30" fill="#1b4a84"/><rect x="364" y="66.80" width="1" height="2.30" fill="#1b4a84"/><rect x="365" y="66.80" width="1" height="2.30" fill="#1b4a84"/><rect x="366" y="66.80" width="1" height="4.30" fill="#1b4a84"/><rect x="367" y="66.80" width="1" height="4.79" fill="#1b4a84"/><rect x="368" y="66.80" width="1" height="1.80" fill="#1b4a84"/><rect x="369" y="66.80" width="1" height="1.80" fill="#1b4a84"/><rect x="370" y="66.80" width="1" height="1.80" fill="#1b4a84"/><rect x="371" y="66.80" width="1" height="7.71" fill="#1b4a84"/><rect x="372" y="66.80" width="1" height="7.80" fill="#1b4a84"/><rect x="373" y="66.80" width="1" height="7.80" fill="#1b4a84"/><rect x="374" y="66.80" width="1" height="10.96" fill="#6f97c4"/><rect x="375" y="66.80" width="1" height="11.80" fill="#6f97c4"/><rect x="376" y="66.80" width="1" height="2.30" fill="#1b4a84"/><rect x="377" y="66.80" width="1" height="2.30" fill="#1b4a84"/><rect x="378" y="66.80" width="1" height="2.30" fill="#1b4a84"/><rect x="379" y="66.80" width="1" height="2.30" fill="#1b4a84"/><rect x="380" y="66.80" width="1" height="2.30" fill="#1b4a84"/><rect x="381" y="66.80" width="1" height="4.37" fill="#1b4a84"/><rect x="382" y="66.80" width="1" height="4.80" fill="#1b4a84"/><rect x="383" y="66.80" width="1" height="4.55" fill="#1b4a84"/><rect x="384" y="66.80" width="1" height="1.80" fill="#1b4a84"/><rect x="385" y="66.80" width="1" height="1.80" fill="#1b4a84"/><rect x="386" y="66.80" width="1" height="4.29" fill="#1b4a84"/><rect x="387" y="66.80" width="1" height="4.54" fill="#1b4a84"/><rect x="388" y="66.80" width="1" height="1.80" fill="#1b4a84"/><rect x="389" y="66.80" width="1" height="1.80" fill="#1b4a84"/><rect x="390" y="66.80" width="1" height="1.80" fill="#1b4a84"/><rect x="391" y="66.80" width="1" height="1.80" fill="#1b4a84"/><rect x="392" y="66.80" width="1" height="6.52" fill="#1b4a84"/><rect x="393" y="66.80" width="1" height="6.80" fill="#1b4a84"/><rect x="394" y="66.80" width="1" height="6.49" fill="#1b4a84"/><rect x="395" y="66.80" width="1" height="6.18" fill="#1b4a84"/><rect x="396" y="66.80" width="1" height="10.81" fill="#6f97c4"/><rect x="397" y="66.80" width="1" height="10.01" fill="#6f97c4"/><rect x="398" y="66.80" width="1" height="11.10" fill="#6f97c4"/><rect x="399" y="66.80" width="1" height="1.80" fill="#1b4a84"/><rect x="400" y="66.80" width="1" height="1.80" fill="#1b4a84"/><rect x="401" y="66.80" width="1" height="1.80" fill="#1b4a84"/><rect x="402" y="66.80" width="1" height="1.80" fill="#1b4a84"/><rect x="403" y="66.80" width="1" height="11.33" fill="#1b4a84"/><rect x="404" y="66.80" width="1" height="11.39" fill="#1b4a84"/><rect x="405" y="66.80" width="1" height="12.46" fill="#1b4a84"/><rect x="406" y="66.80" width="1" height="7.80" fill="#1b4a84"/><rect x="407" y="66.80" width="1" height="8.14" fill="#1b4a84"/><rect x="408" y="66.80" width="1" height="2.80" fill="#1b4a84"/><rect x="409" y="66.80" width="1" height="2.80" fill="#1b4a84"/><rect x="410" y="66.80" width="1" height="2.80" fill="#1b4a84"/><rect x="411" y="66.80" width="1" height="3.68" fill="#1b4a84"/><rect x="412" y="66.80" width="1" height="3.43" fill="#1b4a84"/><rect x="413" y="66.80" width="1" height="9.58" fill="#6f97c4"/><rect x="414" y="66.80" width="1" height="10.20" fill="#6f97c4"/><rect x="415" y="66.80" width="1" height="2.80" fill="#1b4a84"/><rect x="416" y="66.80" width="1" height="2.80" fill="#1b4a84"/><rect x="417" y="66.80" width="1" height="2.80" fill="#1b4a84"/><rect x="418" y="66.80" width="1" height="2.80" fill="#1b4a84"/><rect x="419" y="66.80" width="1" height="2.80" fill="#1b4a84"/><rect x="420" y="66.80" width="1" height="2.80" fill="#1b4a84"/><rect x="421" y="66.80" width="1" height="7.30" fill="#1b4a84"/><rect x="422" y="66.80" width="1" height="7.30" fill="#1b4a84"/><rect x="423" y="66.80" width="1" height="6.86" fill="#1b4a84"/><rect x="424" y="66.80" width="1" height="7.30" fill="#1b4a84"/><rect x="425" y="66.80" width="1" height="6.87" fill="#1b4a84"/><rect x="426" y="66.80" width="1" height="7.30" fill="#1b4a84"/><rect x="427" y="66.80" width="1" height="7.91" fill="#1b4a84"/><rect x="428" y="66.80" width="1" height="12.60" fill="#1b4a84"/><rect x="429" y="66.80" width="1" height="11.79" fill="#1b4a84"/><rect x="430" y="66.80" width="1" height="7.87" fill="#1b4a84"/><rect x="431" y="66.80" width="1" height="8.42" fill="#1b4a84"/><rect x="432" y="66.80" width="1" height="5.71" fill="#1b4a84"/><rect x="433" y="66.80" width="1" height="5.51" fill="#1b4a84"/><rect x="434" y="66.80" width="1" height="5.18" fill="#1b4a84"/><rect x="435" y="66.80" width="1" height="5.54" fill="#1b4a84"/><rect x="436" y="66.80" width="1" height="5.80" fill="#1b4a84"/><rect x="437" y="66.80" width="1" height="5.79" fill="#1b4a84"/><rect x="438" y="66.80" width="1" height="5.35" fill="#1b4a84"/><rect x="439" y="66.80" width="1" height="2.30" fill="#1b4a84"/><rect x="440" y="66.80" width="1" height="2.30" fill="#1b4a84"/><rect x="441" y="66.80" width="1" height="2.30" fill="#1b4a84"/><rect x="442" y="66.80" width="1" height="2.30" fill="#1b4a84"/><rect x="443" y="66.80" width="1" height="2.30" fill="#1b4a84"/><rect x="444" y="66.80" width="1" height="2.30" fill="#1b4a84"/><rect x="445" y="66.80" width="1" height="2.30" fill="#1b4a84"/><rect x="446" y="66.80" width="1" height="2.30" fill="#1b4a84"/><rect x="447" y="66.80" width="1" height="2.30" fill="#1b4a84"/><rect x="448" y="66.80" width="1" height="2.30" fill="#1b4a84"/><rect x="449" y="66.80" width="1" height="10.80" fill="#1b4a84"/><rect x="450" y="66.80" width="1" height="10.80" fill="#1b4a84"/><rect x="451" y="66.80" width="1" height="12.88" fill="#1b4a84"/><rect x="452" y="66.80" width="1" height="12.71" fill="#1b4a84"/><rect x="453" y="66.80" width="1" height="8.80" fill="#1b4a84"/><rect x="454" y="66.80" width="1" height="8.80" fill="#1b4a84"/><rect x="455" y="66.80" width="1" height="4.23" fill="#1b4a84"/><rect x="456" y="66.80" width="1" height="4.29" fill="#1b4a84"/><rect x="457" y="66.80" width="1" height="4.35" fill="#1b4a84"/><rect x="458" y="66.80" width="1" height="4.80" fill="#1b4a84"/><rect x="459" y="66.80" width="1" height="8.21" fill="#1b4a84"/><rect x="460" y="66.80" width="1" height="7.71" fill="#1b4a84"/><rect x="461" y="66.80" width="1" height="8.60" fill="#1b4a84"/><rect x="462" y="66.80" width="1" height="3.83" fill="#6f97c4"/><rect x="463" y="66.80" width="1" height="4.23" fill="#6f97c4"/><rect x="464" y="66.80" width="1" height="4.30" fill="#6f97c4"/><rect x="465" y="66.80" width="1" height="3.79" fill="#6f97c4"/><rect x="466" y="66.80" width="1" height="4.07" fill="#6f97c4"/><rect x="467" y="66.80" width="1" height="7.47" fill="#6f97c4"/><rect x="468" y="66.80" width="1" height="7.74" fill="#6f97c4"/><rect x="469" y="66.80" width="1" height="7.10" fill="#6f97c4"/><rect x="470" y="66.80" width="1" height="3.36" fill="#6f97c4"/><rect x="471" y="66.80" width="1" height="3.80" fill="#6f97c4"/><rect x="472" y="66.80" width="1" height="3.37" fill="#6f97c4"/><rect x="473" y="66.80" width="1" height="3.35" fill="#6f97c4"/><rect x="474" y="66.80" width="1" height="3.80" fill="#6f97c4"/><rect x="475" y="66.80" width="1" height="3.43" fill="#6f97c4"/><rect x="476" y="66.80" width="1" height="1.80" fill="#1b4a84"/><rect x="477" y="66.80" width="1" height="1.80" fill="#1b4a84"/><rect x="478" y="66.80" width="1" height="1.80" fill="#1b4a84"/><rect x="479" y="66.80" width="1" height="1.80" fill="#1b4a84"/><rect x="480" y="66.80" width="1" height="5.32" fill="#1b4a84"/><rect x="481" y="66.80" width="1" height="5.14" fill="#1b4a84"/><rect x="482" y="66.80" width="1" height="1.80" fill="#1b4a84"/><rect x="483" y="66.80" width="1" height="1.80" fill="#1b4a84"/><rect x="484" y="66.80" width="1" height="1.80" fill="#1b4a84"/><rect x="485" y="66.80" width="1" height="1.80" fill="#1b4a84"/></g><line x1="62.5" y1="66.8" x2="487" y2="66.8" stroke="#1b4a84" stroke-width="0.4"/><rect x="62.5" y="16" width="424.5" height="101" fill="none" stroke="#333" stroke-width="1.1"/><line x1="59.3" y1="20.3" x2="62.5" y2="20.3" stroke="#333" stroke-width="0.9"/><text x="56.3" y="22.6" font-size="6.5" text-anchor="end" fill="#333">1.0</text><line x1="59.3" y1="43.4" x2="62.5" y2="43.4" stroke="#333" stroke-width="0.9"/><text x="56.3" y="45.699999999999996" font-size="6.5" text-anchor="end" fill="#333">0.5</text><line x1="59.3" y1="66.7" x2="62.5" y2="66.7" stroke="#333" stroke-width="0.9"/><text x="56.3" y="69.0" font-size="6.5" text-anchor="end" fill="#333">0.0</text><line x1="59.3" y1="89.8" x2="62.5" y2="89.8" stroke="#333" stroke-width="0.9"/><text x="56.3" y="92.1" font-size="6.5" text-anchor="end" fill="#333">−0.5</text><line x1="59.3" y1="113" x2="62.5" y2="113" stroke="#333" stroke-width="0.9"/><text x="56.3" y="115.3" font-size="6.5" text-anchor="end" fill="#333">−1.0</text><text transform="translate(36.9,66.9) rotate(-90) scale(0.67,1)" font-size="8.4" font-weight="bold" text-anchor="middle" fill="#222">Frequency</text><line x1="84.8" y1="117" x2="84.8" y2="120" stroke="#333" stroke-width="0.9"/><text x="84.8" y="130.2" font-size="6.5" text-anchor="middle" fill="#333">1</text><line x1="120.2" y1="117" x2="120.2" y2="120" stroke="#333" stroke-width="0.9"/><text x="120.2" y="130.2" font-size="6.5" text-anchor="middle" fill="#333">2</text><line x1="152" y1="117" x2="152" y2="120" stroke="#333" stroke-width="0.9"/><text x="152" y="130.2" font-size="6.5" text-anchor="middle" fill="#333">3</text><line x1="180" y1="117" x2="180" y2="120" stroke="#333" stroke-width="0.9"/><text x="180" y="130.2" font-size="6.5" text-anchor="middle" fill="#333">4</text><line x1="206.2" y1="117" x2="206.2" y2="120" stroke="#333" stroke-width="0.9"/><text x="206.2" y="130.2" font-size="6.5" text-anchor="middle" fill="#333">5</text><line x1="232.3" y1="117" x2="232.3" y2="120" stroke="#333" stroke-width="0.9"/><text x="232.3" y="130.2" font-size="6.5" text-anchor="middle" fill="#333">6</text><line x1="256" y1="117" x2="256" y2="120" stroke="#333" stroke-width="0.9"/><text x="256" y="130.2" font-size="6.5" text-anchor="middle" fill="#333">7</text><line x1="277.8" y1="117" x2="277.8" y2="120" stroke="#333" stroke-width="0.9"/><text x="277.8" y="130.2" font-size="6.5" text-anchor="middle" fill="#333">8</text><line x1="298.5" y1="117" x2="298.5" y2="120" stroke="#333" stroke-width="0.9"/><text x="298.5" y="130.2" font-size="6.5" text-anchor="middle" fill="#333">9</text><line x1="319.5" y1="117" x2="319.5" y2="120" stroke="#333" stroke-width="0.9"/><text x="319.5" y="130.2" font-size="6.5" text-anchor="middle" fill="#333">10</text><line x1="338" y1="117" x2="338" y2="120" stroke="#333" stroke-width="0.9"/><text x="338" y="130.2" font-size="6.5" text-anchor="middle" fill="#333">11</text><line x1="357.5" y1="117" x2="357.5" y2="120" stroke="#333" stroke-width="0.9"/><text x="357.5" y="130.2" font-size="6.5" text-anchor="middle" fill="#333">12</text><line x1="375.8" y1="117" x2="375.8" y2="120" stroke="#333" stroke-width="0.9"/><text x="375.8" y="130.2" font-size="6.5" text-anchor="middle" fill="#333">13</text><line x1="392.2" y1="117" x2="392.2" y2="120" stroke="#333" stroke-width="0.9"/><text x="392.2" y="130.2" font-size="6.5" text-anchor="middle" fill="#333">14</text><line x1="406.8" y1="117" x2="406.8" y2="120" stroke="#333" stroke-width="0.9"/><text x="406.8" y="130.2" font-size="6.5" text-anchor="middle" fill="#333">15</text><line x1="421.4" y1="117" x2="421.4" y2="120" stroke="#333" stroke-width="0.9"/><text x="421.4" y="130.2" font-size="6.5" text-anchor="middle" fill="#333">16</text><line x1="434.2" y1="117" x2="434.2" y2="120" stroke="#333" stroke-width="0.9"/><text x="434.2" y="130.2" font-size="6.5" text-anchor="middle" fill="#333">17</text><line x1="445.2" y1="117" x2="445.2" y2="120" stroke="#333" stroke-width="0.9"/><text x="445.2" y="130.2" font-size="6.5" text-anchor="middle" fill="#333">18</text><line x1="455" y1="117" x2="455" y2="120" stroke="#333" stroke-width="0.9"/><text x="455" y="130.2" font-size="6.5" text-anchor="middle" fill="#333">19</text><line x1="463.5" y1="117" x2="463.5" y2="120" stroke="#333" stroke-width="0.9"/><text x="463.5" y="130.2" font-size="6.5" text-anchor="middle" fill="#333">20</text><line x1="471.5" y1="117" x2="471.5" y2="120" stroke="#333" stroke-width="0.9"/><text x="471.5" y="130.2" font-size="6.5" text-anchor="middle" fill="#333">21</text><line x1="480" y1="117" x2="480" y2="120" stroke="#333" stroke-width="0.9"/><text x="480" y="130.2" font-size="6.5" text-anchor="middle" fill="#333">22</text><text transform="translate(274,142.2) scale(0.66,1)" font-size="8.4" font-weight="bold" text-anchor="middle" fill="#222">Chromosome</text><text transform="translate(491.3,23.3) rotate(90)" font-size="6.9" fill="#333" textLength="39.7" lengthAdjust="spacingAndGlyphs">Amplifications</text><text transform="translate(491.3,76.2) rotate(90)" font-size="6.9" fill="#333" textLength="26.5" lengthAdjust="spacingAndGlyphs">Deletions</text><text transform="translate(78.7,20.5) rotate(-90)" font-size="4.45" font-style="italic" text-anchor="end" fill="#474747">JAK1</text><text transform="translate(85.1,20.5) rotate(-90)" font-size="4.45" font-style="italic" text-anchor="end" fill="#474747">NRAS</text><text transform="translate(108.9,20.5) rotate(-90)" font-size="4.45" font-style="italic" text-anchor="end" fill="#474747">ALK, DNMT3A</text><text transform="translate(126.4,20.5) rotate(-90)" font-size="4.45" font-style="italic" text-anchor="end" fill="#474747">NFE2L2</text><text transform="translate(135.5,20.5) rotate(-90)" font-size="4.45" font-style="italic" text-anchor="end" fill="#474747">SF3B1,IDH1</text><text transform="translate(144.7,20.5) rotate(-90)" font-size="4.45" font-style="italic" text-anchor="end" fill="#474747">CTNNB1, MYD88</text><text transform="translate(150.6,20.5) rotate(-90)" font-size="4.45" font-style="italic" text-anchor="end" fill="#474747">FOXP1</text><text transform="translate(154.1,20.5) rotate(-90)" font-size="4.45" font-style="italic" text-anchor="end" fill="#474747">RHOA</text><text transform="translate(157.9,20.5) rotate(-90)" font-size="4.45" font-style="italic" text-anchor="end" fill="#474747">FOXL2, GATA2</text><text transform="translate(166.9,20.5) rotate(-90)" font-size="4.45" font-style="italic" text-anchor="end" fill="#474747">PIK3CA,BCL6</text><text transform="translate(216.9,20.5) rotate(-90)" font-size="4.45" font-style="italic" text-anchor="end" fill="#474747">CSF1R</text><text transform="translate(249.2,20.5) rotate(-90)" font-size="4.45" font-style="italic" text-anchor="end" fill="#474747">CARD11</text><text transform="translate(254.6,20.5) rotate(-90)" font-size="4.45" font-style="italic" text-anchor="end" fill="#474747">EGFR</text><text transform="translate(262.3,20.5) rotate(-90)" font-size="4.45" font-style="italic" text-anchor="end" fill="#474747">MET, SMO</text><text transform="translate(266.9,20.5) rotate(-90)" font-size="4.45" font-style="italic" text-anchor="end" fill="#474747">BRAF, EZH2</text><text transform="translate(293.5,20.5) rotate(-90)" font-size="4.45" font-style="italic" text-anchor="end" fill="#474747">JAK2</text><text transform="translate(301.0,20.5) rotate(-90)" font-size="4.45" font-style="italic" text-anchor="end" fill="#474747">GO</text><text transform="translate(305.7,20.5) rotate(-90)" font-size="4.45" font-style="italic" text-anchor="end" fill="#474747">KLF4</text><text transform="translate(309.6,20.5) rotate(-90)" font-size="4.45" font-style="italic" text-anchor="end" fill="#474747">ABL1</text><text transform="translate(329.0,20.5) rotate(-90)" font-size="4.45" font-style="italic" text-anchor="end" fill="#474747">FGFR2</text><text transform="translate(333.9,20.5) rotate(-90)" font-size="4.45" font-style="italic" text-anchor="end" fill="#474747">HRAS</text><text transform="translate(348.0,20.5) rotate(-90)" font-size="4.45" font-style="italic" text-anchor="end" fill="#474747">CBL</text><text transform="translate(353.3,20.5) rotate(-90)" font-size="4.45" font-style="italic" text-anchor="end" fill="#474747">KRAS</text><text transform="translate(365.8,20.5) rotate(-90)" font-size="4.45" font-style="italic" text-anchor="end" fill="#474747">PTPN11</text><text transform="translate(374.1,20.5) rotate(-90)" font-size="4.45" font-style="italic" text-anchor="end" fill="#474747">FLT3</text><text transform="translate(398.6,20.5) rotate(-90)" font-size="4.45" font-style="italic" text-anchor="end" fill="#474747">TSHR</text><text transform="translate(408.8,20.5) rotate(-90)" font-size="4.45" font-style="italic" text-anchor="end" fill="#474747">MAP2K1</text><text transform="translate(412.1,20.5) rotate(-90)" font-size="4.45" font-style="italic" text-anchor="end" fill="#474747">IDH2</text><text transform="translate(435.7,20.5) rotate(-90)" font-size="4.45" font-style="italic" text-anchor="end" fill="#474747">ERBB2, SOX9, ZNF</text><text transform="translate(440.4,20.5) rotate(-90)" font-size="4.45" font-style="italic" text-anchor="end" fill="#474747">SOX9</text><text transform="translate(449.8,20.5) rotate(-90)" font-size="4.45" font-style="italic" text-anchor="end" fill="#474747">SETBP1</text><text transform="translate(452.6,20.5) rotate(-90)" font-size="4.45" font-style="italic" text-anchor="end" fill="#474747">TCF4</text><text transform="translate(456.1,20.5) rotate(-90)" font-size="4.45" font-style="italic" text-anchor="end" fill="#474747">STK11,JAK3</text><text transform="translate(460.0,20.5) rotate(-90)" font-size="4.45" font-style="italic" text-anchor="end" fill="#474747">PPP2R1A</text><text transform="translate(468.6,20.5) rotate(-90)" font-size="4.45" font-style="italic" text-anchor="end" fill="#474747">GS</text><text transform="translate(474.8,20.5) rotate(-90)" font-size="4.45" font-style="italic" text-anchor="end" fill="#474747">U2AF1</text><text transform="translate(73.2,112.4) rotate(-90)" font-size="4.45" font-style="italic" text-anchor="start" fill="#474747">ARID1A</text><text transform="translate(79.7,112.4) rotate(-90)" font-size="4.45" font-style="italic" text-anchor="start" fill="#474747">RUBP1</text><text transform="translate(85.8,112.4) rotate(-90)" font-size="4.45" font-style="italic" text-anchor="start" fill="#474747">NOTCH2</text><text transform="translate(111.2,112.4) rotate(-90)" font-size="4.45" font-style="italic" text-anchor="start" fill="#474747">MSH6,MSH2</text><text transform="translate(134.1,112.4) rotate(-90)" font-size="4.45" font-style="italic" text-anchor="start" fill="#474747">CASP8</text><text transform="translate(143.1,112.4) rotate(-90)" font-size="4.45" font-style="italic" text-anchor="start" fill="#474747">VHL</text><text transform="translate(146.5,112.4) rotate(-90)" font-size="4.45" font-style="italic" text-anchor="start" fill="#474747">MLH1,SETD2</text><text transform="translate(150.0,112.4) rotate(-90)" font-size="4.45" font-style="italic" text-anchor="start" fill="#474747">BAP1,PBRM1</text><text transform="translate(184.2,112.4) rotate(-90)" font-size="4.45" font-style="italic" text-anchor="start" fill="#474747">TET2</text><text transform="translate(188.0,112.4) rotate(-90)" font-size="4.45" font-style="italic" text-anchor="start" fill="#474747">FBXW7</text><text transform="translate(203.8,112.4) rotate(-90)" font-size="4.45" font-style="italic" text-anchor="start" fill="#474747">MAP3K1,PIK3R1</text><text transform="translate(212.7,112.4) rotate(-90)" font-size="4.45" font-style="italic" text-anchor="start" fill="#474747">APC</text><text transform="translate(221.0,112.4) rotate(-90)" font-size="4.45" font-style="italic" text-anchor="start" fill="#474747">NPM1</text><text transform="translate(237.8,112.4) rotate(-90)" font-size="4.45" font-style="italic" text-anchor="start" fill="#474747">PRDM1</text><text transform="translate(241.2,112.4) rotate(-90)" font-size="4.45" font-style="italic" text-anchor="start" fill="#474747">TNFAIP3</text><text transform="translate(244.7,112.4) rotate(-90)" font-size="4.45" font-style="italic" text-anchor="start" fill="#474747">ARID1B</text><text transform="translate(264.9,112.4) rotate(-90)" font-size="4.45" font-style="italic" text-anchor="start" fill="#474747">POT1</text><text transform="translate(268.9,112.4) rotate(-90)" font-size="4.45" font-style="italic" text-anchor="start" fill="#474747">KMT2C</text><text transform="translate(294.2,112.4) rotate(-90)" font-size="4.45" font-style="italic" text-anchor="start" fill="#474747">CDKN2A</text><text transform="translate(304.6,112.4) rotate(-90)" font-size="4.45" font-style="italic" text-anchor="start" fill="#474747">PTCH1</text><text transform="translate(309.8,112.4) rotate(-90)" font-size="4.45" font-style="italic" text-anchor="start" fill="#474747">TSC1</text><text transform="translate(323.6,112.4) rotate(-90)" font-size="4.45" font-style="italic" text-anchor="start" fill="#474747">PTEN</text><text transform="translate(335.7,112.4) rotate(-90)" font-size="4.45" font-style="italic" text-anchor="start" fill="#474747">WT1</text><text transform="translate(367.2,112.4) rotate(-90)" font-size="4.45" font-style="italic" text-anchor="start" fill="#474747">HNF1A</text><text transform="translate(370.6,112.4) rotate(-90)" font-size="4.45" font-style="italic" text-anchor="start" fill="#474747">BRCA2</text><text transform="translate(374.1,112.4) rotate(-90)" font-size="4.45" font-style="italic" text-anchor="start" fill="#474747">RB1</text><text transform="translate(408.1,112.4) rotate(-90)" font-size="4.45" font-style="italic" text-anchor="start" fill="#474747">B2M</text><text transform="translate(418.5,112.4) rotate(-90)" font-size="4.45" font-style="italic" text-anchor="start" fill="#474747">CREBBP</text><text transform="translate(421.7,112.4) rotate(-90)" font-size="4.45" font-style="italic" text-anchor="start" fill="#474747">CYLD</text><text transform="translate(424.8,112.4) rotate(-90)" font-size="4.45" font-style="italic" text-anchor="start" fill="#474747">CDH1</text><text transform="translate(431.8,112.4) rotate(-90)" font-size="4.45" font-style="italic" text-anchor="start" fill="#474747">NCOR1,TP53</text><text transform="translate(435.7,112.4) rotate(-90)" font-size="4.45" font-style="italic" text-anchor="start" fill="#474747">NF1,BRCA1</text><text transform="translate(439.6,112.4) rotate(-90)" font-size="4.45" font-style="italic" text-anchor="start" fill="#474747">RNF43,SOX9</text><text transform="translate(449.8,112.4) rotate(-90)" font-size="4.45" font-style="italic" text-anchor="start" fill="#474747">BCL2</text><text transform="translate(453.2,112.4) rotate(-90)" font-size="4.45" font-style="italic" text-anchor="start" fill="#474747">STK11,SMARCA4</text><text transform="translate(457.6,112.4) rotate(-90)" font-size="4.45" font-style="italic" text-anchor="start" fill="#474747">CEBPA,CIC</text><text transform="translate(466.2,112.4) rotate(-90)" font-size="4.45" font-style="italic" text-anchor="start" fill="#474747">ASXL1</text><text transform="translate(479.5,112.4) rotate(-90)" font-size="4.45" font-style="italic" text-anchor="start" fill="#474747">NF2,SMARCB1</text><text transform="translate(483.4,112.4) rotate(-90)" font-size="4.45" font-style="italic" text-anchor="start" fill="#474747">EP300</text><path d="M476.2 69 V81 H479.5" fill="none" stroke="#8aa0b8" stroke-width="0.5"/><text x="93.8" y="161.4" font-size="6.6" text-anchor="middle" fill="#222">DLBCL–all</text><text x="93.8" y="167.6" font-size="6.6" text-anchor="middle" fill="#222">(<tspan font-style="italic">n</tspan> = 180)</text><text x="158.0" y="161.4" font-size="6.6" text-anchor="middle" fill="#222">DLBCL–ABC</text><text x="158.0" y="167.6" font-size="6.6" text-anchor="middle" fill="#222">(<tspan font-style="italic">n</tspan> = 55)</text><text x="222.3" y="161.4" font-size="6.6" text-anchor="middle" fill="#222">DLBCL–GCB</text><text x="222.3" y="167.6" font-size="6.6" text-anchor="middle" fill="#222">(<tspan font-style="italic">n</tspan> = 77)</text><text x="286.5" y="161.4" font-size="6.6" text-anchor="middle" fill="#222">PCNSL</text><text x="286.5" y="167.6" font-size="6.6" text-anchor="middle" fill="#222">(<tspan font-style="italic">n</tspan> = 21)</text><text x="350.7" y="161.4" font-size="6.6" text-anchor="middle" fill="#222">PTLBL</text><text x="350.7" y="167.6" font-size="6.6" text-anchor="middle" fill="#222">(<tspan font-style="italic">n</tspan> = 50)</text><text x="414.9" y="161.4" font-size="6.6" text-anchor="middle" fill="#222">PR–DLBCL</text><text x="414.9" y="167.6" font-size="6.6" text-anchor="middle" fill="#222">(<tspan font-style="italic">n</tspan> = 29)</text><text x="449.8" y="166.6" font-size="6.6" fill="#222">Gene</text><line x1="63.3" y1="170.60" x2="63.3" y2="287.00" stroke="#222" stroke-width="0.9"/><line x1="60.6" y1="173.60" x2="63.3" y2="173.60" stroke="#222" stroke-width="0.7"/><text x="57.0" y="176.20" font-size="5.75" text-anchor="end" fill="#333">1q23.3</text><line x1="60.6" y1="179.08" x2="63.3" y2="179.08" stroke="#222" stroke-width="0.7"/><text x="57.0" y="181.68" font-size="5.75" text-anchor="end" fill="#333">2p16.1</text><line x1="60.6" y1="184.56" x2="63.3" y2="184.56" stroke="#222" stroke-width="0.7"/><text x="57.0" y="187.16" font-size="5.75" text-anchor="end" fill="#333">3q12.3</text><line x1="60.6" y1="190.04" x2="63.3" y2="190.04" stroke="#222" stroke-width="0.7"/><text x="57.0" y="192.64" font-size="5.75" text-anchor="end" fill="#333">3q29</text><line x1="60.6" y1="195.52" x2="63.3" y2="195.52" stroke="#222" stroke-width="0.7"/><text x="57.0" y="198.12" font-size="5.75" text-anchor="end" fill="#333">5p15.33</text><line x1="60.6" y1="201.00" x2="63.3" y2="201.00" stroke="#222" stroke-width="0.7"/><text x="57.0" y="203.60" font-size="5.75" text-anchor="end" fill="#333">5q35.3</text><line x1="60.6" y1="206.48" x2="63.3" y2="206.48" stroke="#222" stroke-width="0.7"/><text x="57.0" y="209.08" font-size="5.75" text-anchor="end" fill="#333">6p21.32</text><line x1="60.6" y1="211.96" x2="63.3" y2="211.96" stroke="#222" stroke-width="0.7"/><text x="57.0" y="214.56" font-size="5.75" text-anchor="end" fill="#333">7p22.2</text><line x1="60.6" y1="217.44" x2="63.3" y2="217.44" stroke="#222" stroke-width="0.7"/><text x="57.0" y="220.04" font-size="5.75" text-anchor="end" fill="#333">7q22.1</text><line x1="60.6" y1="222.92" x2="63.3" y2="222.92" stroke="#222" stroke-width="0.7"/><text x="57.0" y="225.52" font-size="5.75" text-anchor="end" fill="#333">7q36.3</text><line x1="60.6" y1="228.40" x2="63.3" y2="228.40" stroke="#222" stroke-width="0.7"/><text x="57.0" y="231.00" font-size="5.75" text-anchor="end" fill="#333">8q24.3</text><line x1="60.6" y1="233.88" x2="63.3" y2="233.88" stroke="#222" stroke-width="0.7"/><text x="57.0" y="236.48" font-size="5.75" text-anchor="end" fill="#333">9p24.1</text><line x1="60.6" y1="239.36" x2="63.3" y2="239.36" stroke="#222" stroke-width="0.7"/><text x="57.0" y="241.96" font-size="5.75" text-anchor="end" fill="#333">9q34.3</text><line x1="60.6" y1="244.84" x2="63.3" y2="244.84" stroke="#222" stroke-width="0.7"/><text x="57.0" y="247.44" font-size="5.75" text-anchor="end" fill="#333">11q24.3</text><line x1="60.6" y1="250.32" x2="63.3" y2="250.32" stroke="#222" stroke-width="0.7"/><text x="57.0" y="252.92" font-size="5.75" text-anchor="end" fill="#333">12q15</text><line x1="60.6" y1="255.80" x2="63.3" y2="255.80" stroke="#222" stroke-width="0.7"/><text x="57.0" y="258.40" font-size="5.75" text-anchor="end" fill="#333">13q31.3</text><line x1="60.6" y1="261.28" x2="63.3" y2="261.28" stroke="#222" stroke-width="0.7"/><text x="57.0" y="263.88" font-size="5.75" text-anchor="end" fill="#333">16q24.3</text><line x1="60.6" y1="266.76" x2="63.3" y2="266.76" stroke="#222" stroke-width="0.7"/><text x="57.0" y="269.36" font-size="5.75" text-anchor="end" fill="#333">18q21.33</text><line x1="60.6" y1="272.24" x2="63.3" y2="272.24" stroke="#222" stroke-width="0.7"/><text x="57.0" y="274.84" font-size="5.75" text-anchor="end" fill="#333">19p13.3</text><line x1="60.6" y1="277.72" x2="63.3" y2="277.72" stroke="#222" stroke-width="0.7"/><text x="57.0" y="280.32" font-size="5.75" text-anchor="end" fill="#333">19q13.42</text><line x1="60.6" y1="283.20" x2="63.3" y2="283.20" stroke="#222" stroke-width="0.7"/><text x="57.0" y="285.80" font-size="5.75" text-anchor="end" fill="#333">21q22.3</text><rect x="66.30" y="171.40" width="10.10" height="4.45" fill="#c40d2c" stroke="#9c0520" stroke-width="0.45"/><rect x="66.30" y="176.88" width="10.50" height="4.45" fill="#c40d2c" stroke="#9c0520" stroke-width="0.45"/><rect x="66.30" y="182.36" width="5.70" height="4.45" fill="#c40d2c" stroke="#9c0520" stroke-width="0.45"/><rect x="66.30" y="187.84" width="10.50" height="4.45" fill="#c40d2c" stroke="#9c0520" stroke-width="0.45"/><rect x="66.30" y="193.32" width="10.10" height="4.45" fill="#c40d2c" stroke="#9c0520" stroke-width="0.45"/><rect x="66.30" y="198.80" width="8.40" height="4.45" fill="#c40d2c" stroke="#9c0520" stroke-width="0.45"/><rect x="66.30" y="204.28" width="7.60" height="4.45" fill="#c40d2c" stroke="#9c0520" stroke-width="0.45"/><rect x="66.30" y="209.76" width="14.10" height="4.45" fill="#c40d2c" stroke="#9c0520" stroke-width="0.45"/><rect x="66.30" y="215.24" width="13.30" height="4.45" fill="#c40d2c" stroke="#9c0520" stroke-width="0.45"/><rect x="66.30" y="220.72" width="14.10" height="4.45" fill="#c40d2c" stroke="#9c0520" stroke-width="0.45"/><rect x="66.30" y="226.20" width="6.70" height="4.45" fill="#c40d2c" stroke="#9c0520" stroke-width="0.45"/><rect x="66.30" y="231.68" width="3.80" height="4.45" fill="#c40d2c" stroke="#9c0520" stroke-width="0.45"/><rect x="66.30" y="237.16" width="7.20" height="4.45" fill="#c40d2c" stroke="#9c0520" stroke-width="0.45"/><rect x="66.30" y="242.64" width="7.20" height="4.45" fill="#c40d2c" stroke="#9c0520" stroke-width="0.45"/><rect x="66.30" y="248.12" width="8.80" height="4.45" fill="#c40d2c" stroke="#9c0520" stroke-width="0.45"/><rect x="66.30" y="253.60" width="5.30" height="4.45" fill="#c40d2c" stroke="#9c0520" stroke-width="0.45"/><rect x="66.30" y="259.08" width="3.80" height="4.45" fill="#c40d2c" stroke="#9c0520" stroke-width="0.45"/><rect x="66.30" y="264.56" width="12.20" height="4.45" fill="#c40d2c" stroke="#9c0520" stroke-width="0.45"/><rect x="66.30" y="270.04" width="5.70" height="4.45" fill="#c40d2c" stroke="#9c0520" stroke-width="0.45"/><rect x="66.30" y="275.52" width="6.30" height="4.45" fill="#c40d2c" stroke="#9c0520" stroke-width="0.45"/><rect x="66.30" y="281.00" width="6.30" height="4.45" fill="#c40d2c" stroke="#9c0520" stroke-width="0.45"/><line x1="63.30" y1="287.00" x2="123.90" y2="287.00" stroke="#222" stroke-width="0.9"/><line x1="66.30" y1="287.00" x2="66.30" y2="289.80" stroke="#222" stroke-width="0.8"/><text x="66.30" y="299.00" font-size="6.3" text-anchor="middle" fill="#333">0</text><line x1="80.40" y1="287.00" x2="80.40" y2="289.80" stroke="#222" stroke-width="0.8"/><text x="80.40" y="299.00" font-size="6.3" text-anchor="middle" fill="#333">20</text><line x1="94.50" y1="287.00" x2="94.50" y2="289.80" stroke="#222" stroke-width="0.8"/><text x="94.50" y="299.00" font-size="6.3" text-anchor="middle" fill="#333">40</text><line x1="108.60" y1="287.00" x2="108.60" y2="289.80" stroke="#222" stroke-width="0.8"/><text x="108.60" y="299.00" font-size="6.3" text-anchor="middle" fill="#333">60</text><line x1="122.70" y1="287.00" x2="122.70" y2="289.80" stroke="#222" stroke-width="0.8"/><text x="122.70" y="299.00" font-size="6.3" text-anchor="middle" fill="#333">80</text><rect x="130.50" y="171.40" width="7.40" height="4.45" fill="#c40d2c" stroke="#9c0520" stroke-width="0.45"/><rect x="130.50" y="176.88" width="1.70" height="4.45" fill="#c40d2c" stroke="#9c0520" stroke-width="0.45"/><rect x="130.50" y="182.36" width="13.30" height="4.45" fill="#c40d2c" stroke="#9c0520" stroke-width="0.45"/><rect x="130.50" y="187.84" width="16.20" height="4.45" fill="#c40d2c" stroke="#9c0520" stroke-width="0.45"/><rect x="130.50" y="193.32" width="14.70" height="4.45" fill="#c40d2c" stroke="#9c0520" stroke-width="0.45"/><rect x="130.50" y="198.80" width="8.40" height="4.45" fill="#c40d2c" stroke="#9c0520" stroke-width="0.45"/><rect x="130.50" y="204.28" width="4.60" height="4.45" fill="#c40d2c" stroke="#9c0520" stroke-width="0.45"/><rect x="130.50" y="209.76" width="9.90" height="4.45" fill="#c40d2c" stroke="#9c0520" stroke-width="0.45"/><rect x="130.50" y="215.24" width="9.90" height="4.45" fill="#c40d2c" stroke="#9c0520" stroke-width="0.45"/><rect x="130.50" y="220.72" width="12.40" height="4.45" fill="#c40d2c" stroke="#9c0520" stroke-width="0.45"/><rect x="130.50" y="226.20" width="4.60" height="4.45" fill="#c40d2c" stroke="#9c0520" stroke-width="0.45"/><rect x="130.50" y="231.68" width="4.60" height="4.45" fill="#c40d2c" stroke="#9c0520" stroke-width="0.45"/><rect x="130.50" y="237.16" width="8.40" height="4.45" fill="#c40d2c" stroke="#9c0520" stroke-width="0.45"/><rect x="130.50" y="242.64" width="12.40" height="4.45" fill="#c40d2c" stroke="#9c0520" stroke-width="0.45"/><rect x="130.50" y="248.12" width="3.20" height="4.45" fill="#c40d2c" stroke="#9c0520" stroke-width="0.45"/><rect x="130.50" y="253.60" width="1.70" height="4.45" fill="#c40d2c" stroke="#9c0520" stroke-width="0.45"/><rect x="130.50" y="259.08" width="4.60" height="4.45" fill="#c40d2c" stroke="#9c0520" stroke-width="0.45"/><rect x="130.50" y="264.56" width="21.00" height="4.45" fill="#c40d2c" stroke="#9c0520" stroke-width="0.45"/><rect x="130.50" y="270.04" width="9.90" height="4.45" fill="#c40d2c" stroke="#9c0520" stroke-width="0.45"/><rect x="130.50" y="275.52" width="19.00" height="4.45" fill="#c40d2c" stroke="#9c0520" stroke-width="0.45"/><rect x="130.50" y="281.00" width="2.10" height="4.45" fill="#c40d2c" stroke="#9c0520" stroke-width="0.45"/><line x1="127.50" y1="287.00" x2="188.10" y2="287.00" stroke="#222" stroke-width="0.9"/><line x1="130.50" y1="287.00" x2="130.50" y2="289.80" stroke="#222" stroke-width="0.8"/><text x="130.50" y="299.00" font-size="6.3" text-anchor="middle" fill="#333">0</text><line x1="144.60" y1="287.00" x2="144.60" y2="289.80" stroke="#222" stroke-width="0.8"/><text x="144.60" y="299.00" font-size="6.3" text-anchor="middle" fill="#333">20</text><line x1="158.70" y1="287.00" x2="158.70" y2="289.80" stroke="#222" stroke-width="0.8"/><text x="158.70" y="299.00" font-size="6.3" text-anchor="middle" fill="#333">40</text><line x1="172.80" y1="287.00" x2="172.80" y2="289.80" stroke="#222" stroke-width="0.8"/><text x="172.80" y="299.00" font-size="6.3" text-anchor="middle" fill="#333">60</text><line x1="186.90" y1="287.00" x2="186.90" y2="289.80" stroke="#222" stroke-width="0.8"/><text x="186.90" y="299.00" font-size="6.3" text-anchor="middle" fill="#333">80</text><rect x="194.80" y="171.40" width="13.00" height="4.45" fill="#c40d2c" stroke="#9c0520" stroke-width="0.45"/><rect x="194.80" y="176.88" width="16.00" height="4.45" fill="#c40d2c" stroke="#9c0520" stroke-width="0.45"/><rect x="194.80" y="182.36" width="2.90" height="4.45" fill="#c40d2c" stroke="#9c0520" stroke-width="0.45"/><rect x="194.80" y="187.84" width="8.80" height="4.45" fill="#c40d2c" stroke="#9c0520" stroke-width="0.45"/><rect x="194.80" y="193.32" width="8.00" height="4.45" fill="#c40d2c" stroke="#9c0520" stroke-width="0.45"/><rect x="194.80" y="198.80" width="8.80" height="4.45" fill="#c40d2c" stroke="#9c0520" stroke-width="0.45"/><rect x="194.80" y="204.28" width="8.80" height="4.45" fill="#c40d2c" stroke="#9c0520" stroke-width="0.45"/><rect x="194.80" y="209.76" width="21.50" height="4.45" fill="#c40d2c" stroke="#9c0520" stroke-width="0.45"/><rect x="194.80" y="215.24" width="19.80" height="4.45" fill="#c40d2c" stroke="#9c0520" stroke-width="0.45"/><rect x="194.80" y="220.72" width="18.90" height="4.45" fill="#c40d2c" stroke="#9c0520" stroke-width="0.45"/><rect x="194.80" y="226.20" width="9.70" height="4.45" fill="#c40d2c" stroke="#9c0520" stroke-width="0.45"/><rect x="194.80" y="231.68" width="2.90" height="4.45" fill="#c40d2c" stroke="#9c0520" stroke-width="0.45"/><rect x="194.80" y="237.16" width="5.90" height="4.45" fill="#c40d2c" stroke="#9c0520" stroke-width="0.45"/><rect x="194.80" y="242.64" width="8.00" height="4.45" fill="#c40d2c" stroke="#9c0520" stroke-width="0.45"/><rect x="194.80" y="248.12" width="14.30" height="4.45" fill="#c40d2c" stroke="#9c0520" stroke-width="0.45"/><rect x="194.80" y="253.60" width="7.20" height="4.45" fill="#c40d2c" stroke="#9c0520" stroke-width="0.45"/><rect x="194.80" y="259.08" width="4.20" height="4.45" fill="#c40d2c" stroke="#9c0520" stroke-width="0.45"/><rect x="194.80" y="264.56" width="8.00" height="4.45" fill="#c40d2c" stroke="#9c0520" stroke-width="0.45"/><rect x="194.80" y="270.04" width="2.90" height="4.45" fill="#c40d2c" stroke="#9c0520" stroke-width="0.45"/><rect x="194.80" y="275.52" width="2.10" height="4.45" fill="#c40d2c" stroke="#9c0520" stroke-width="0.45"/><rect x="194.80" y="281.00" width="10.70" height="4.45" fill="#c40d2c" stroke="#9c0520" stroke-width="0.45"/><line x1="191.80" y1="287.00" x2="252.40" y2="287.00" stroke="#222" stroke-width="0.9"/><line x1="194.80" y1="287.00" x2="194.80" y2="289.80" stroke="#222" stroke-width="0.8"/><text x="194.80" y="299.00" font-size="6.3" text-anchor="middle" fill="#333">0</text><line x1="208.90" y1="287.00" x2="208.90" y2="289.80" stroke="#222" stroke-width="0.8"/><text x="208.90" y="299.00" font-size="6.3" text-anchor="middle" fill="#333">20</text><line x1="223.00" y1="287.00" x2="223.00" y2="289.80" stroke="#222" stroke-width="0.8"/><text x="223.00" y="299.00" font-size="6.3" text-anchor="middle" fill="#333">40</text><line x1="237.10" y1="287.00" x2="237.10" y2="289.80" stroke="#222" stroke-width="0.8"/><text x="237.10" y="299.00" font-size="6.3" text-anchor="middle" fill="#333">60</text><line x1="251.20" y1="287.00" x2="251.20" y2="289.80" stroke="#222" stroke-width="0.8"/><text x="251.20" y="299.00" font-size="6.3" text-anchor="middle" fill="#333">80</text><rect x="259.00" y="171.40" width="16.80" height="4.45" fill="#c40d2c" stroke="#9c0520" stroke-width="0.45"/><rect x="259.00" y="176.88" width="2.70" height="4.45" fill="#c40d2c" stroke="#9c0520" stroke-width="0.45"/><rect x="259.00" y="182.36" width="13.00" height="4.45" fill="#c40d2c" stroke="#9c0520" stroke-width="0.45"/><rect x="259.00" y="187.84" width="10.10" height="4.45" fill="#c40d2c" stroke="#9c0520" stroke-width="0.45"/><rect x="259.00" y="209.76" width="6.70" height="4.45" fill="#c40d2c" stroke="#9c0520" stroke-width="0.45"/><rect x="259.00" y="215.24" width="2.70" height="4.45" fill="#c40d2c" stroke="#9c0520" stroke-width="0.45"/><rect x="259.00" y="220.72" width="2.70" height="4.45" fill="#c40d2c" stroke="#9c0520" stroke-width="0.45"/><rect x="259.00" y="226.20" width="10.10" height="4.45" fill="#c40d2c" stroke="#9c0520" stroke-width="0.45"/><rect x="259.00" y="231.68" width="6.70" height="4.45" fill="#c40d2c" stroke="#9c0520" stroke-width="0.45"/><rect x="259.00" y="237.16" width="10.10" height="4.45" fill="#c40d2c" stroke="#9c0520" stroke-width="0.45"/><rect x="259.00" y="242.64" width="16.80" height="4.45" fill="#c40d2c" stroke="#9c0520" stroke-width="0.45"/><rect x="259.00" y="248.12" width="10.10" height="4.45" fill="#c40d2c" stroke="#9c0520" stroke-width="0.45"/><rect x="259.00" y="253.60" width="2.70" height="4.45" fill="#c40d2c" stroke="#9c0520" stroke-width="0.45"/><rect x="259.00" y="259.08" width="2.70" height="4.45" fill="#c40d2c" stroke="#9c0520" stroke-width="0.45"/><rect x="259.00" y="264.56" width="19.80" height="4.45" fill="#c40d2c" stroke="#9c0520" stroke-width="0.45"/><rect x="259.00" y="270.04" width="10.10" height="4.45" fill="#c40d2c" stroke="#9c0520" stroke-width="0.45"/><rect x="259.00" y="275.52" width="19.80" height="4.45" fill="#c40d2c" stroke="#9c0520" stroke-width="0.45"/><line x1="256.00" y1="287.00" x2="316.60" y2="287.00" stroke="#222" stroke-width="0.9"/><line x1="259.00" y1="287.00" x2="259.00" y2="289.80" stroke="#222" stroke-width="0.8"/><text x="259.00" y="299.00" font-size="6.3" text-anchor="middle" fill="#333">0</text><line x1="273.10" y1="287.00" x2="273.10" y2="289.80" stroke="#222" stroke-width="0.8"/><text x="273.10" y="299.00" font-size="6.3" text-anchor="middle" fill="#333">20</text><line x1="287.20" y1="287.00" x2="287.20" y2="289.80" stroke="#222" stroke-width="0.8"/><text x="287.20" y="299.00" font-size="6.3" text-anchor="middle" fill="#333">40</text><line x1="301.30" y1="287.00" x2="301.30" y2="289.80" stroke="#222" stroke-width="0.8"/><text x="301.30" y="299.00" font-size="6.3" text-anchor="middle" fill="#333">60</text><line x1="315.40" y1="287.00" x2="315.40" y2="289.80" stroke="#222" stroke-width="0.8"/><text x="315.40" y="299.00" font-size="6.3" text-anchor="middle" fill="#333">80</text><rect x="323.20" y="171.40" width="19.80" height="4.45" fill="#c40d2c" stroke="#9c0520" stroke-width="0.45"/><rect x="323.20" y="182.36" width="18.10" height="4.45" fill="#c40d2c" stroke="#9c0520" stroke-width="0.45"/><rect x="323.20" y="187.84" width="10.90" height="4.45" fill="#c40d2c" stroke="#9c0520" stroke-width="0.45"/><rect x="323.20" y="193.32" width="5.50" height="4.45" fill="#c40d2c" stroke="#9c0520" stroke-width="0.45"/><rect x="323.20" y="198.80" width="1.30" height="4.45" fill="#c40d2c" stroke="#9c0520" stroke-width="0.45"/><rect x="323.20" y="204.28" width="10.90" height="4.45" fill="#c40d2c" stroke="#9c0520" stroke-width="0.45"/><rect x="323.20" y="209.76" width="15.20" height="4.45" fill="#c40d2c" stroke="#9c0520" stroke-width="0.45"/><rect x="323.20" y="215.24" width="16.80" height="4.45" fill="#c40d2c" stroke="#9c0520" stroke-width="0.45"/><rect x="323.20" y="220.72" width="15.20" height="4.45" fill="#c40d2c" stroke="#9c0520" stroke-width="0.45"/><rect x="323.20" y="226.20" width="2.50" height="4.45" fill="#c40d2c" stroke="#9c0520" stroke-width="0.45"/><rect x="323.20" y="231.68" width="10.90" height="4.45" fill="#c40d2c" stroke="#9c0520" stroke-width="0.45"/><rect x="323.20" y="237.16" width="8.00" height="4.45" fill="#c40d2c" stroke="#9c0520" stroke-width="0.45"/><rect x="323.20" y="242.64" width="12.40" height="4.45" fill="#c40d2c" stroke="#9c0520" stroke-width="0.45"/><rect x="323.20" y="248.12" width="18.10" height="4.45" fill="#c40d2c" stroke="#9c0520" stroke-width="0.45"/><rect x="323.20" y="253.60" width="9.70" height="4.45" fill="#c40d2c" stroke="#9c0520" stroke-width="0.45"/><rect x="323.20" y="259.08" width="2.50" height="4.45" fill="#c40d2c" stroke="#9c0520" stroke-width="0.45"/><rect x="323.20" y="264.56" width="41.90" height="4.45" fill="#c40d2c" stroke="#9c0520" stroke-width="0.45"/><rect x="323.20" y="275.52" width="32.00" height="4.45" fill="#c40d2c" stroke="#9c0520" stroke-width="0.45"/><rect x="323.20" y="281.00" width="6.70" height="4.45" fill="#c40d2c" stroke="#9c0520" stroke-width="0.45"/><line x1="320.20" y1="287.00" x2="380.80" y2="287.00" stroke="#222" stroke-width="0.9"/><line x1="323.20" y1="287.00" x2="323.20" y2="289.80" stroke="#222" stroke-width="0.8"/><text x="323.20" y="299.00" font-size="6.3" text-anchor="middle" fill="#333">0</text><line x1="337.30" y1="287.00" x2="337.30" y2="289.80" stroke="#222" stroke-width="0.8"/><text x="337.30" y="299.00" font-size="6.3" text-anchor="middle" fill="#333">20</text><line x1="351.40" y1="287.00" x2="351.40" y2="289.80" stroke="#222" stroke-width="0.8"/><text x="351.40" y="299.00" font-size="6.3" text-anchor="middle" fill="#333">40</text><line x1="365.50" y1="287.00" x2="365.50" y2="289.80" stroke="#222" stroke-width="0.8"/><text x="365.50" y="299.00" font-size="6.3" text-anchor="middle" fill="#333">60</text><line x1="379.60" y1="287.00" x2="379.60" y2="289.80" stroke="#222" stroke-width="0.8"/><text x="379.60" y="299.00" font-size="6.3" text-anchor="middle" fill="#333">80</text><rect x="387.40" y="171.40" width="12.00" height="4.45" fill="#c40d2c" stroke="#9c0520" stroke-width="0.45"/><rect x="387.40" y="176.88" width="6.90" height="4.45" fill="#c40d2c" stroke="#9c0520" stroke-width="0.45"/><rect x="387.40" y="182.36" width="14.10" height="4.45" fill="#c40d2c" stroke="#9c0520" stroke-width="0.45"/><rect x="387.40" y="187.84" width="21.50" height="4.45" fill="#c40d2c" stroke="#9c0520" stroke-width="0.45"/><rect x="387.40" y="193.32" width="9.50" height="4.45" fill="#c40d2c" stroke="#9c0520" stroke-width="0.45"/><rect x="387.40" y="198.80" width="6.90" height="4.45" fill="#c40d2c" stroke="#9c0520" stroke-width="0.45"/><rect x="387.40" y="204.28" width="6.90" height="4.45" fill="#c40d2c" stroke="#9c0520" stroke-width="0.45"/><rect x="387.40" y="209.76" width="28.40" height="4.45" fill="#c40d2c" stroke="#9c0520" stroke-width="0.45"/><rect x="387.40" y="215.24" width="28.40" height="4.45" fill="#c40d2c" stroke="#9c0520" stroke-width="0.45"/><rect x="387.40" y="220.72" width="28.40" height="4.45" fill="#c40d2c" stroke="#9c0520" stroke-width="0.45"/><rect x="387.40" y="226.20" width="9.50" height="4.45" fill="#c40d2c" stroke="#9c0520" stroke-width="0.45"/><rect x="387.40" y="231.68" width="14.10" height="4.45" fill="#c40d2c" stroke="#9c0520" stroke-width="0.45"/><rect x="387.40" y="237.16" width="16.60" height="4.45" fill="#c40d2c" stroke="#9c0520" stroke-width="0.45"/><rect x="387.40" y="242.64" width="12.00" height="4.45" fill="#c40d2c" stroke="#9c0520" stroke-width="0.45"/><rect x="387.40" y="248.12" width="28.40" height="4.45" fill="#c40d2c" stroke="#9c0520" stroke-width="0.45"/><rect x="387.40" y="253.60" width="9.50" height="4.45" fill="#c40d2c" stroke="#9c0520" stroke-width="0.45"/><rect x="387.40" y="259.08" width="6.90" height="4.45" fill="#c40d2c" stroke="#9c0520" stroke-width="0.45"/><rect x="387.40" y="264.56" width="23.80" height="4.45" fill="#c40d2c" stroke="#9c0520" stroke-width="0.45"/><rect x="387.40" y="270.04" width="4.20" height="4.45" fill="#c40d2c" stroke="#9c0520" stroke-width="0.45"/><rect x="387.40" y="275.52" width="6.90" height="4.45" fill="#c40d2c" stroke="#9c0520" stroke-width="0.45"/><line x1="384.40" y1="287.00" x2="445.00" y2="287.00" stroke="#222" stroke-width="0.9"/><line x1="387.40" y1="287.00" x2="387.40" y2="289.80" stroke="#222" stroke-width="0.8"/><text x="387.40" y="299.00" font-size="6.3" text-anchor="middle" fill="#333">0</text><line x1="401.50" y1="287.00" x2="401.50" y2="289.80" stroke="#222" stroke-width="0.8"/><text x="401.50" y="299.00" font-size="6.3" text-anchor="middle" fill="#333">20</text><line x1="415.60" y1="287.00" x2="415.60" y2="289.80" stroke="#222" stroke-width="0.8"/><text x="415.60" y="299.00" font-size="6.3" text-anchor="middle" fill="#333">40</text><line x1="429.70" y1="287.00" x2="429.70" y2="289.80" stroke="#222" stroke-width="0.8"/><text x="429.70" y="299.00" font-size="6.3" text-anchor="middle" fill="#333">60</text><line x1="443.80" y1="287.00" x2="443.80" y2="289.80" stroke="#222" stroke-width="0.8"/><text x="443.80" y="299.00" font-size="6.3" text-anchor="middle" fill="#333">80</text><line x1="63.3" y1="311.40" x2="63.3" y2="449.80" stroke="#222" stroke-width="0.9"/><line x1="60.6" y1="314.40" x2="63.3" y2="314.40" stroke="#222" stroke-width="0.7"/><text x="57.0" y="316.40" font-size="5.75" text-anchor="end" fill="#333">1p13.1</text><line x1="60.6" y1="319.70" x2="63.3" y2="319.70" stroke="#222" stroke-width="0.7"/><text x="57.0" y="321.70" font-size="5.75" text-anchor="end" fill="#333">1p36.32</text><line x1="60.6" y1="325.00" x2="63.3" y2="325.00" stroke="#222" stroke-width="0.7"/><text x="57.0" y="327.00" font-size="5.75" text-anchor="end" fill="#333">1q32.1</text><line x1="60.6" y1="330.30" x2="63.3" y2="330.30" stroke="#222" stroke-width="0.7"/><text x="57.0" y="332.30" font-size="5.75" text-anchor="end" fill="#333">2p11.2</text><line x1="60.6" y1="335.60" x2="63.3" y2="335.60" stroke="#222" stroke-width="0.7"/><text x="57.0" y="337.60" font-size="5.75" text-anchor="end" fill="#333">2q22.3</text><line x1="60.6" y1="340.90" x2="63.3" y2="340.90" stroke="#222" stroke-width="0.7"/><text x="57.0" y="342.90" font-size="5.75" text-anchor="end" fill="#333">2q33.3</text><line x1="60.6" y1="346.20" x2="63.3" y2="346.20" stroke="#222" stroke-width="0.7"/><text x="57.0" y="348.20" font-size="5.75" text-anchor="end" fill="#333">3p14.2</text><line x1="60.6" y1="351.50" x2="63.3" y2="351.50" stroke="#222" stroke-width="0.7"/><text x="57.0" y="353.50" font-size="5.75" text-anchor="end" fill="#333">3q28</text><line x1="60.6" y1="356.80" x2="63.3" y2="356.80" stroke="#222" stroke-width="0.7"/><text x="57.0" y="358.80" font-size="5.75" text-anchor="end" fill="#333">4q21.22</text><line x1="60.6" y1="362.10" x2="63.3" y2="362.10" stroke="#222" stroke-width="0.7"/><text x="57.0" y="364.10" font-size="5.75" text-anchor="end" fill="#333">4q35.2</text><line x1="60.6" y1="367.40" x2="63.3" y2="367.40" stroke="#222" stroke-width="0.7"/><text x="57.0" y="369.40" font-size="5.75" text-anchor="end" fill="#333">6p21.33</text><line x1="60.6" y1="372.70" x2="63.3" y2="372.70" stroke="#222" stroke-width="0.7"/><text x="57.0" y="374.70" font-size="5.75" text-anchor="end" fill="#333">6q23.3</text><line x1="60.6" y1="378.00" x2="63.3" y2="378.00" stroke="#222" stroke-width="0.7"/><text x="57.0" y="380.00" font-size="5.75" text-anchor="end" fill="#333">6q21</text><line x1="60.6" y1="383.30" x2="63.3" y2="383.30" stroke="#222" stroke-width="0.7"/><text x="57.0" y="385.30" font-size="5.75" text-anchor="end" fill="#333">7q34</text><line x1="60.6" y1="388.60" x2="63.3" y2="388.60" stroke="#222" stroke-width="0.7"/><text x="57.0" y="390.60" font-size="5.75" text-anchor="end" fill="#333">8p21.3</text><line x1="60.6" y1="393.90" x2="63.3" y2="393.90" stroke="#222" stroke-width="0.7"/><text x="57.0" y="395.90" font-size="5.75" text-anchor="end" fill="#333">8q12.1</text><line x1="60.6" y1="399.20" x2="63.3" y2="399.20" stroke="#222" stroke-width="0.7"/><text x="57.0" y="401.20" font-size="5.75" text-anchor="end" fill="#333">9p21.3</text><line x1="60.6" y1="404.50" x2="63.3" y2="404.50" stroke="#222" stroke-width="0.7"/><text x="57.0" y="406.50" font-size="5.75" text-anchor="end" fill="#333">9p24.1</text><line x1="60.6" y1="409.80" x2="63.3" y2="409.80" stroke="#222" stroke-width="0.7"/><text x="57.0" y="411.80" font-size="5.75" text-anchor="end" fill="#333">10q23.31</text><line x1="60.6" y1="415.10" x2="63.3" y2="415.10" stroke="#222" stroke-width="0.7"/><text x="57.0" y="417.10" font-size="5.75" text-anchor="end" fill="#333">13q14.2</text><line x1="60.6" y1="420.40" x2="63.3" y2="420.40" stroke="#222" stroke-width="0.7"/><text x="57.0" y="422.40" font-size="5.75" text-anchor="end" fill="#333">15q21.1</text><line x1="60.6" y1="425.70" x2="63.3" y2="425.70" stroke="#222" stroke-width="0.7"/><text x="57.0" y="427.70" font-size="5.75" text-anchor="end" fill="#333">16q12.2</text><line x1="60.6" y1="431.00" x2="63.3" y2="431.00" stroke="#222" stroke-width="0.7"/><text x="57.0" y="433.00" font-size="5.75" text-anchor="end" fill="#333">17p13.2</text><line x1="60.6" y1="436.30" x2="63.3" y2="436.30" stroke="#222" stroke-width="0.7"/><text x="57.0" y="438.30" font-size="5.75" text-anchor="end" fill="#333">18q22.1</text><line x1="60.6" y1="441.60" x2="63.3" y2="441.60" stroke="#222" stroke-width="0.7"/><text x="57.0" y="443.60" font-size="5.75" text-anchor="end" fill="#333">19p13.3</text><line x1="60.6" y1="446.90" x2="63.3" y2="446.90" stroke="#222" stroke-width="0.7"/><text x="57.0" y="448.90" font-size="5.75" text-anchor="end" fill="#333">22q11.22</text><rect x="66.30" y="312.20" width="5.10" height="4.3" fill="#17447f" stroke="#0c2d5a" stroke-width="0.45"/><rect x="66.30" y="317.50" width="9.40" height="4.3" fill="#17447f" stroke="#0c2d5a" stroke-width="0.45"/><rect x="66.30" y="322.80" width="2.40" height="4.3" fill="#17447f" stroke="#0c2d5a" stroke-width="0.45"/><rect x="66.30" y="328.10" width="3.80" height="4.3" fill="#17447f" stroke="#0c2d5a" stroke-width="0.45"/><rect x="66.30" y="333.40" width="4.70" height="4.3" fill="#17447f" stroke="#0c2d5a" stroke-width="0.45"/><rect x="66.30" y="338.70" width="4.30" height="4.3" fill="#17447f" stroke="#0c2d5a" stroke-width="0.45"/><rect x="66.30" y="344.00" width="4.30" height="4.3" fill="#17447f" stroke="#0c2d5a" stroke-width="0.45"/><rect x="66.30" y="349.30" width="3.20" height="4.3" fill="#17447f" stroke="#0c2d5a" stroke-width="0.45"/><rect x="66.30" y="354.60" width="4.70" height="4.3" fill="#17447f" stroke="#0c2d5a" stroke-width="0.45"/><rect x="66.30" y="359.90" width="4.70" height="4.3" fill="#17447f" stroke="#0c2d5a" stroke-width="0.45"/><rect x="66.30" y="365.20" width="4.30" height="4.3" fill="#17447f" stroke="#0c2d5a" stroke-width="0.45"/><rect x="66.30" y="370.50" width="16.40" height="4.3" fill="#17447f" stroke="#0c2d5a" stroke-width="0.45"/><rect x="66.30" y="375.80" width="18.70" height="4.3" fill="#17447f" stroke="#0c2d5a" stroke-width="0.45"/><rect x="66.30" y="381.10" width="7.00" height="4.3" fill="#17447f" stroke="#0c2d5a" stroke-width="0.45"/><rect x="66.30" y="386.40" width="6.80" height="4.3" fill="#17447f" stroke="#0c2d5a" stroke-width="0.45"/><rect x="66.30" y="391.70" width="3.50" height="4.3" fill="#17447f" stroke="#0c2d5a" stroke-width="0.45"/><rect x="66.30" y="397.00" width="16.20" height="4.3" fill="#17447f" stroke="#0c2d5a" stroke-width="0.45"/><rect x="66.30" y="402.30" width="8.40" height="4.3" fill="#17447f" stroke="#0c2d5a" stroke-width="0.45"/><rect x="66.30" y="407.60" width="4.10" height="4.3" fill="#17447f" stroke="#0c2d5a" stroke-width="0.45"/><rect x="66.30" y="412.90" width="5.40" height="4.3" fill="#17447f" stroke="#0c2d5a" stroke-width="0.45"/><rect x="66.30" y="418.20" width="7.00" height="4.3" fill="#17447f" stroke="#0c2d5a" stroke-width="0.45"/><rect x="66.30" y="423.50" width="4.30" height="4.3" fill="#17447f" stroke="#0c2d5a" stroke-width="0.45"/><rect x="66.30" y="428.80" width="8.40" height="4.3" fill="#17447f" stroke="#0c2d5a" stroke-width="0.45"/><rect x="66.30" y="434.10" width="4.90" height="4.3" fill="#17447f" stroke="#0c2d5a" stroke-width="0.45"/><rect x="66.30" y="439.40" width="5.10" height="4.3" fill="#17447f" stroke="#0c2d5a" stroke-width="0.45"/><rect x="66.30" y="444.70" width="5.10" height="4.3" fill="#17447f" stroke="#0c2d5a" stroke-width="0.45"/><line x1="63.30" y1="449.80" x2="123.90" y2="449.80" stroke="#222" stroke-width="0.9"/><line x1="66.30" y1="449.80" x2="66.30" y2="452.60" stroke="#222" stroke-width="0.8"/><text x="66.30" y="462.20" font-size="6.3" text-anchor="middle" fill="#333">0</text><line x1="80.40" y1="449.80" x2="80.40" y2="452.60" stroke="#222" stroke-width="0.8"/><text x="80.40" y="462.20" font-size="6.3" text-anchor="middle" fill="#333">20</text><line x1="94.50" y1="449.80" x2="94.50" y2="452.60" stroke="#222" stroke-width="0.8"/><text x="94.50" y="462.20" font-size="6.3" text-anchor="middle" fill="#333">40</text><line x1="108.60" y1="449.80" x2="108.60" y2="452.60" stroke="#222" stroke-width="0.8"/><text x="108.60" y="462.20" font-size="6.3" text-anchor="middle" fill="#333">60</text><line x1="122.70" y1="449.80" x2="122.70" y2="452.60" stroke="#222" stroke-width="0.8"/><text x="122.70" y="462.20" font-size="6.3" text-anchor="middle" fill="#333">80</text><rect x="130.50" y="312.20" width="6.20" height="4.3" fill="#17447f" stroke="#0c2d5a" stroke-width="0.45"/><rect x="130.50" y="317.50" width="4.70" height="4.3" fill="#17447f" stroke="#0c2d5a" stroke-width="0.45"/><rect x="130.50" y="322.80" width="6.20" height="4.3" fill="#17447f" stroke="#0c2d5a" stroke-width="0.45"/><rect x="130.50" y="328.10" width="5.00" height="4.3" fill="#17447f" stroke="#0c2d5a" stroke-width="0.45"/><rect x="130.50" y="333.40" width="7.40" height="4.3" fill="#17447f" stroke="#0c2d5a" stroke-width="0.45"/><rect x="130.50" y="338.70" width="6.20" height="4.3" fill="#17447f" stroke="#0c2d5a" stroke-width="0.45"/><rect x="130.50" y="344.00" width="3.60" height="4.3" fill="#17447f" stroke="#0c2d5a" stroke-width="0.45"/><rect x="130.50" y="349.30" width="3.60" height="4.3" fill="#17447f" stroke="#0c2d5a" stroke-width="0.45"/><rect x="130.50" y="354.60" width="2.30" height="4.3" fill="#17447f" stroke="#0c2d5a" stroke-width="0.45"/><rect x="130.50" y="359.90" width="0.90" height="4.3" fill="#17447f" stroke="#0c2d5a" stroke-width="0.45"/><rect x="130.50" y="365.20" width="7.40" height="4.3" fill="#17447f" stroke="#0c2d5a" stroke-width="0.45"/><rect x="130.50" y="370.50" width="20.30" height="4.3" fill="#17447f" stroke="#0c2d5a" stroke-width="0.45"/><rect x="130.50" y="375.80" width="20.30" height="4.3" fill="#17447f" stroke="#0c2d5a" stroke-width="0.45"/><rect x="130.50" y="381.10" width="6.70" height="4.3" fill="#17447f" stroke="#0c2d5a" stroke-width="0.45"/><rect x="130.50" y="386.40" width="8.20" height="4.3" fill="#17447f" stroke="#0c2d5a" stroke-width="0.45"/><rect x="130.50" y="391.70" width="6.70" height="4.3" fill="#17447f" stroke="#0c2d5a" stroke-width="0.45"/><rect x="130.50" y="397.00" width="23.60" height="4.3" fill="#17447f" stroke="#0c2d5a" stroke-width="0.45"/><rect x="130.50" y="402.30" width="2.90" height="4.3" fill="#17447f" stroke="#0c2d5a" stroke-width="0.45"/><rect x="130.50" y="407.60" width="4.30" height="4.3" fill="#17447f" stroke="#0c2d5a" stroke-width="0.45"/><rect x="130.50" y="412.90" width="4.30" height="4.3" fill="#17447f" stroke="#0c2d5a" stroke-width="0.45"/><rect x="130.50" y="418.20" width="1.40" height="4.3" fill="#17447f" stroke="#0c2d5a" stroke-width="0.45"/><rect x="130.50" y="423.50" width="2.90" height="4.3" fill="#17447f" stroke="#0c2d5a" stroke-width="0.45"/><rect x="130.50" y="428.80" width="9.60" height="4.3" fill="#17447f" stroke="#0c2d5a" stroke-width="0.45"/><rect x="130.50" y="434.10" width="1.40" height="4.3" fill="#17447f" stroke="#0c2d5a" stroke-width="0.45"/><rect x="130.50" y="439.40" width="1.40" height="4.3" fill="#17447f" stroke="#0c2d5a" stroke-width="0.45"/><rect x="130.50" y="444.70" width="4.30" height="4.3" fill="#17447f" stroke="#0c2d5a" stroke-width="0.45"/><line x1="127.50" y1="449.80" x2="188.10" y2="449.80" stroke="#222" stroke-width="0.9"/><line x1="130.50" y1="449.80" x2="130.50" y2="452.60" stroke="#222" stroke-width="0.8"/><text x="130.50" y="462.20" font-size="6.3" text-anchor="middle" fill="#333">0</text><line x1="144.60" y1="449.80" x2="144.60" y2="452.60" stroke="#222" stroke-width="0.8"/><text x="144.60" y="462.20" font-size="6.3" text-anchor="middle" fill="#333">20</text><line x1="158.70" y1="449.80" x2="158.70" y2="452.60" stroke="#222" stroke-width="0.8"/><text x="158.70" y="462.20" font-size="6.3" text-anchor="middle" fill="#333">40</text><line x1="172.80" y1="449.80" x2="172.80" y2="452.60" stroke="#222" stroke-width="0.8"/><text x="172.80" y="462.20" font-size="6.3" text-anchor="middle" fill="#333">60</text><line x1="186.90" y1="449.80" x2="186.90" y2="452.60" stroke="#222" stroke-width="0.8"/><text x="186.90" y="462.20" font-size="6.3" text-anchor="middle" fill="#333">80</text><rect x="194.80" y="312.20" width="2.40" height="4.3" fill="#17447f" stroke="#0c2d5a" stroke-width="0.45"/><rect x="194.80" y="317.50" width="12.50" height="4.3" fill="#17447f" stroke="#0c2d5a" stroke-width="0.45"/><rect x="194.80" y="328.10" width="2.40" height="4.3" fill="#17447f" stroke="#0c2d5a" stroke-width="0.45"/><rect x="194.80" y="333.40" width="2.40" height="4.3" fill="#17447f" stroke="#0c2d5a" stroke-width="0.45"/><rect x="194.80" y="338.70" width="1.70" height="4.3" fill="#17447f" stroke="#0c2d5a" stroke-width="0.45"/><rect x="194.80" y="344.00" width="4.10" height="4.3" fill="#17447f" stroke="#0c2d5a" stroke-width="0.45"/><rect x="194.80" y="349.30" width="3.60" height="4.3" fill="#17447f" stroke="#0c2d5a" stroke-width="0.45"/><rect x="194.80" y="354.60" width="5.00" height="4.3" fill="#17447f" stroke="#0c2d5a" stroke-width="0.45"/><rect x="194.80" y="359.90" width="7.00" height="4.3" fill="#17447f" stroke="#0c2d5a" stroke-width="0.45"/><rect x="194.80" y="365.20" width="1.90" height="4.3" fill="#17447f" stroke="#0c2d5a" stroke-width="0.45"/><rect x="194.80" y="370.50" width="15.10" height="4.3" fill="#17447f" stroke="#0c2d5a" stroke-width="0.45"/><rect x="194.80" y="375.80" width="14.20" height="4.3" fill="#17447f" stroke="#0c2d5a" stroke-width="0.45"/><rect x="194.80" y="381.10" width="6.00" height="4.3" fill="#17447f" stroke="#0c2d5a" stroke-width="0.45"/><rect x="194.80" y="386.40" width="4.10" height="4.3" fill="#17447f" stroke="#0c2d5a" stroke-width="0.45"/><rect x="194.80" y="391.70" width="1.90" height="4.3" fill="#17447f" stroke="#0c2d5a" stroke-width="0.45"/><rect x="194.80" y="397.00" width="10.30" height="4.3" fill="#17447f" stroke="#0c2d5a" stroke-width="0.45"/><rect x="194.80" y="402.30" width="11.30" height="4.3" fill="#17447f" stroke="#0c2d5a" stroke-width="0.45"/><rect x="194.80" y="407.60" width="5.00" height="4.3" fill="#17447f" stroke="#0c2d5a" stroke-width="0.45"/><rect x="194.80" y="412.90" width="7.90" height="4.3" fill="#17447f" stroke="#0c2d5a" stroke-width="0.45"/><rect x="194.80" y="418.20" width="7.90" height="4.3" fill="#17447f" stroke="#0c2d5a" stroke-width="0.45"/><rect x="194.80" y="423.50" width="4.10" height="4.3" fill="#17447f" stroke="#0c2d5a" stroke-width="0.45"/><rect x="194.80" y="428.80" width="7.90" height="4.3" fill="#17447f" stroke="#0c2d5a" stroke-width="0.45"/><rect x="194.80" y="434.10" width="7.00" height="4.3" fill="#17447f" stroke="#0c2d5a" stroke-width="0.45"/><rect x="194.80" y="439.40" width="6.00" height="4.3" fill="#17447f" stroke="#0c2d5a" stroke-width="0.45"/><rect x="194.80" y="444.70" width="5.00" height="4.3" fill="#17447f" stroke="#0c2d5a" stroke-width="0.45"/><line x1="191.80" y1="449.80" x2="252.40" y2="449.80" stroke="#222" stroke-width="0.9"/><line x1="194.80" y1="449.80" x2="194.80" y2="452.60" stroke="#222" stroke-width="0.8"/><text x="194.80" y="462.20" font-size="6.3" text-anchor="middle" fill="#333">0</text><line x1="208.90" y1="449.80" x2="208.90" y2="452.60" stroke="#222" stroke-width="0.8"/><text x="208.90" y="462.20" font-size="6.3" text-anchor="middle" fill="#333">20</text><line x1="223.00" y1="449.80" x2="223.00" y2="452.60" stroke="#222" stroke-width="0.8"/><text x="223.00" y="462.20" font-size="6.3" text-anchor="middle" fill="#333">40</text><line x1="237.10" y1="449.80" x2="237.10" y2="452.60" stroke="#222" stroke-width="0.8"/><text x="237.10" y="462.20" font-size="6.3" text-anchor="middle" fill="#333">60</text><line x1="251.20" y1="449.80" x2="251.20" y2="452.60" stroke="#222" stroke-width="0.8"/><text x="251.20" y="462.20" font-size="6.3" text-anchor="middle" fill="#333">80</text><rect x="259.00" y="312.20" width="6.20" height="4.3" fill="#17447f" stroke="#0c2d5a" stroke-width="0.45"/><rect x="259.00" y="317.50" width="12.70" height="4.3" fill="#17447f" stroke="#0c2d5a" stroke-width="0.45"/><rect x="259.00" y="322.80" width="2.90" height="4.3" fill="#17447f" stroke="#0c2d5a" stroke-width="0.45"/><rect x="259.00" y="328.10" width="9.60" height="4.3" fill="#17447f" stroke="#0c2d5a" stroke-width="0.45"/><rect x="259.00" y="333.40" width="6.20" height="4.3" fill="#17447f" stroke="#0c2d5a" stroke-width="0.45"/><rect x="259.00" y="338.70" width="6.20" height="4.3" fill="#17447f" stroke="#0c2d5a" stroke-width="0.45"/><rect x="259.00" y="344.00" width="19.70" height="4.3" fill="#17447f" stroke="#0c2d5a" stroke-width="0.45"/><rect x="259.00" y="349.30" width="6.20" height="4.3" fill="#17447f" stroke="#0c2d5a" stroke-width="0.45"/><rect x="259.00" y="354.60" width="12.70" height="4.3" fill="#17447f" stroke="#0c2d5a" stroke-width="0.45"/><rect x="259.00" y="359.90" width="6.20" height="4.3" fill="#17447f" stroke="#0c2d5a" stroke-width="0.45"/><rect x="259.00" y="365.20" width="29.60" height="4.3" fill="#17447f" stroke="#0c2d5a" stroke-width="0.45"/><rect x="259.00" y="370.50" width="26.20" height="4.3" fill="#17447f" stroke="#0c2d5a" stroke-width="0.45"/><rect x="259.00" y="375.80" width="36.30" height="4.3" fill="#17447f" stroke="#0c2d5a" stroke-width="0.45"/><rect x="259.00" y="381.10" width="2.90" height="4.3" fill="#17447f" stroke="#0c2d5a" stroke-width="0.45"/><rect x="259.00" y="386.40" width="16.10" height="4.3" fill="#17447f" stroke="#0c2d5a" stroke-width="0.45"/><rect x="259.00" y="391.70" width="19.70" height="4.3" fill="#17447f" stroke="#0c2d5a" stroke-width="0.45"/><rect x="259.00" y="397.00" width="49.30" height="4.3" fill="#17447f" stroke="#0c2d5a" stroke-width="0.45"/><rect x="259.00" y="402.30" width="2.90" height="4.3" fill="#17447f" stroke="#0c2d5a" stroke-width="0.45"/><rect x="259.00" y="412.90" width="2.90" height="4.3" fill="#17447f" stroke="#0c2d5a" stroke-width="0.45"/><rect x="259.00" y="418.20" width="12.70" height="4.3" fill="#17447f" stroke="#0c2d5a" stroke-width="0.45"/><rect x="259.00" y="423.50" width="12.70" height="4.3" fill="#17447f" stroke="#0c2d5a" stroke-width="0.45"/><rect x="259.00" y="428.80" width="16.10" height="4.3" fill="#17447f" stroke="#0c2d5a" stroke-width="0.45"/><rect x="259.00" y="439.40" width="9.60" height="4.3" fill="#17447f" stroke="#0c2d5a" stroke-width="0.45"/><rect x="259.00" y="444.70" width="6.20" height="4.3" fill="#17447f" stroke="#0c2d5a" stroke-width="0.45"/><line x1="256.00" y1="449.80" x2="316.60" y2="449.80" stroke="#222" stroke-width="0.9"/><line x1="259.00" y1="449.80" x2="259.00" y2="452.60" stroke="#222" stroke-width="0.8"/><text x="259.00" y="462.20" font-size="6.3" text-anchor="middle" fill="#333">0</text><line x1="273.10" y1="449.80" x2="273.10" y2="452.60" stroke="#222" stroke-width="0.8"/><text x="273.10" y="462.20" font-size="6.3" text-anchor="middle" fill="#333">20</text><line x1="287.20" y1="449.80" x2="287.20" y2="452.60" stroke="#222" stroke-width="0.8"/><text x="287.20" y="462.20" font-size="6.3" text-anchor="middle" fill="#333">40</text><line x1="301.30" y1="449.80" x2="301.30" y2="452.60" stroke="#222" stroke-width="0.8"/><text x="301.30" y="462.20" font-size="6.3" text-anchor="middle" fill="#333">60</text><line x1="315.40" y1="449.80" x2="315.40" y2="452.60" stroke="#222" stroke-width="0.8"/><text x="315.40" y="462.20" font-size="6.3" text-anchor="middle" fill="#333">80</text><rect x="323.20" y="312.20" width="4.10" height="4.3" fill="#17447f" stroke="#0c2d5a" stroke-width="0.45"/><rect x="323.20" y="317.50" width="5.30" height="4.3" fill="#17447f" stroke="#0c2d5a" stroke-width="0.45"/><rect x="323.20" y="322.80" width="11.10" height="4.3" fill="#17447f" stroke="#0c2d5a" stroke-width="0.45"/><rect x="323.20" y="328.10" width="2.90" height="4.3" fill="#17447f" stroke="#0c2d5a" stroke-width="0.45"/><rect x="323.20" y="344.00" width="1.20" height="4.3" fill="#17447f" stroke="#0c2d5a" stroke-width="0.45"/><rect x="323.20" y="349.30" width="5.30" height="4.3" fill="#17447f" stroke="#0c2d5a" stroke-width="0.45"/><rect x="323.20" y="354.60" width="4.10" height="4.3" fill="#17447f" stroke="#0c2d5a" stroke-width="0.45"/><rect x="323.20" y="359.90" width="2.90" height="4.3" fill="#17447f" stroke="#0c2d5a" stroke-width="0.45"/><rect x="323.20" y="365.20" width="17.80" height="4.3" fill="#17447f" stroke="#0c2d5a" stroke-width="0.45"/><rect x="323.20" y="370.50" width="43.30" height="4.3" fill="#17447f" stroke="#0c2d5a" stroke-width="0.45"/><rect x="323.20" y="375.80" width="45.70" height="4.3" fill="#17447f" stroke="#0c2d5a" stroke-width="0.45"/><rect x="323.20" y="386.40" width="6.70" height="4.3" fill="#17447f" stroke="#0c2d5a" stroke-width="0.45"/><rect x="323.20" y="391.70" width="4.10" height="4.3" fill="#17447f" stroke="#0c2d5a" stroke-width="0.45"/><rect x="323.20" y="397.00" width="45.70" height="4.3" fill="#17447f" stroke="#0c2d5a" stroke-width="0.45"/><rect x="323.20" y="402.30" width="5.30" height="4.3" fill="#17447f" stroke="#0c2d5a" stroke-width="0.45"/><rect x="323.20" y="407.60" width="4.10" height="4.3" fill="#17447f" stroke="#0c2d5a" stroke-width="0.45"/><rect x="323.20" y="412.90" width="5.30" height="4.3" fill="#17447f" stroke="#0c2d5a" stroke-width="0.45"/><rect x="323.20" y="418.20" width="14.90" height="4.3" fill="#17447f" stroke="#0c2d5a" stroke-width="0.45"/><rect x="323.20" y="423.50" width="1.20" height="4.3" fill="#17447f" stroke="#0c2d5a" stroke-width="0.45"/><rect x="323.20" y="428.80" width="12.50" height="4.3" fill="#17447f" stroke="#0c2d5a" stroke-width="0.45"/><rect x="323.20" y="439.40" width="2.90" height="4.3" fill="#17447f" stroke="#0c2d5a" stroke-width="0.45"/><rect x="323.20" y="444.70" width="1.20" height="4.3" fill="#17447f" stroke="#0c2d5a" stroke-width="0.45"/><line x1="320.20" y1="449.80" x2="380.80" y2="449.80" stroke="#222" stroke-width="0.9"/><line x1="323.20" y1="449.80" x2="323.20" y2="452.60" stroke="#222" stroke-width="0.8"/><text x="323.20" y="462.20" font-size="6.3" text-anchor="middle" fill="#333">0</text><line x1="337.30" y1="449.80" x2="337.30" y2="452.60" stroke="#222" stroke-width="0.8"/><text x="337.30" y="462.20" font-size="6.3" text-anchor="middle" fill="#333">20</text><line x1="351.40" y1="449.80" x2="351.40" y2="452.60" stroke="#222" stroke-width="0.8"/><text x="351.40" y="462.20" font-size="6.3" text-anchor="middle" fill="#333">40</text><line x1="365.50" y1="449.80" x2="365.50" y2="452.60" stroke="#222" stroke-width="0.8"/><text x="365.50" y="462.20" font-size="6.3" text-anchor="middle" fill="#333">60</text><line x1="379.60" y1="449.80" x2="379.60" y2="452.60" stroke="#222" stroke-width="0.8"/><text x="379.60" y="462.20" font-size="6.3" text-anchor="middle" fill="#333">80</text><rect x="387.40" y="312.20" width="9.40" height="4.3" fill="#17447f" stroke="#0c2d5a" stroke-width="0.45"/><rect x="387.40" y="317.50" width="28.40" height="4.3" fill="#17447f" stroke="#0c2d5a" stroke-width="0.45"/><rect x="387.40" y="322.80" width="9.40" height="4.3" fill="#17447f" stroke="#0c2d5a" stroke-width="0.45"/><rect x="387.40" y="328.10" width="6.70" height="4.3" fill="#17447f" stroke="#0c2d5a" stroke-width="0.45"/><rect x="387.40" y="333.40" width="6.70" height="4.3" fill="#17447f" stroke="#0c2d5a" stroke-width="0.45"/><rect x="387.40" y="338.70" width="6.70" height="4.3" fill="#17447f" stroke="#0c2d5a" stroke-width="0.45"/><rect x="387.40" y="344.00" width="11.60" height="4.3" fill="#17447f" stroke="#0c2d5a" stroke-width="0.45"/><rect x="387.40" y="349.30" width="9.40" height="4.3" fill="#17447f" stroke="#0c2d5a" stroke-width="0.45"/><rect x="387.40" y="354.60" width="6.70" height="4.3" fill="#17447f" stroke="#0c2d5a" stroke-width="0.45"/><rect x="387.40" y="359.90" width="6.70" height="4.3" fill="#17447f" stroke="#0c2d5a" stroke-width="0.45"/><rect x="387.40" y="365.20" width="35.60" height="4.3" fill="#17447f" stroke="#0c2d5a" stroke-width="0.45"/><rect x="387.40" y="370.50" width="40.70" height="4.3" fill="#17447f" stroke="#0c2d5a" stroke-width="0.45"/><rect x="387.40" y="375.80" width="40.70" height="4.3" fill="#17447f" stroke="#0c2d5a" stroke-width="0.45"/><rect x="387.40" y="381.10" width="2.30" height="4.3" fill="#17447f" stroke="#0c2d5a" stroke-width="0.45"/><rect x="387.40" y="386.40" width="9.50" height="4.3" fill="#17447f" stroke="#0c2d5a" stroke-width="0.45"/><rect x="387.40" y="391.70" width="2.30" height="4.3" fill="#17447f" stroke="#0c2d5a" stroke-width="0.45"/><rect x="387.40" y="397.00" width="28.40" height="4.3" fill="#17447f" stroke="#0c2d5a" stroke-width="0.45"/><rect x="387.40" y="402.30" width="4.50" height="4.3" fill="#17447f" stroke="#0c2d5a" stroke-width="0.45"/><rect x="387.40" y="407.60" width="2.30" height="4.3" fill="#17447f" stroke="#0c2d5a" stroke-width="0.45"/><rect x="387.40" y="412.90" width="4.50" height="4.3" fill="#17447f" stroke="#0c2d5a" stroke-width="0.45"/><rect x="387.40" y="418.20" width="4.50" height="4.3" fill="#17447f" stroke="#0c2d5a" stroke-width="0.45"/><rect x="387.40" y="423.50" width="6.80" height="4.3" fill="#17447f" stroke="#0c2d5a" stroke-width="0.45"/><rect x="387.40" y="428.80" width="14.20" height="4.3" fill="#17447f" stroke="#0c2d5a" stroke-width="0.45"/><rect x="387.40" y="434.10" width="2.30" height="4.3" fill="#17447f" stroke="#0c2d5a" stroke-width="0.45"/><rect x="387.40" y="439.40" width="26.40" height="4.3" fill="#17447f" stroke="#0c2d5a" stroke-width="0.45"/><line x1="384.40" y1="449.80" x2="445.00" y2="449.80" stroke="#222" stroke-width="0.9"/><line x1="387.40" y1="449.80" x2="387.40" y2="452.60" stroke="#222" stroke-width="0.8"/><text x="387.40" y="462.20" font-size="6.3" text-anchor="middle" fill="#333">0</text><line x1="401.50" y1="449.80" x2="401.50" y2="452.60" stroke="#222" stroke-width="0.8"/><text x="401.50" y="462.20" font-size="6.3" text-anchor="middle" fill="#333">20</text><line x1="415.60" y1="449.80" x2="415.60" y2="452.60" stroke="#222" stroke-width="0.8"/><text x="415.60" y="462.20" font-size="6.3" text-anchor="middle" fill="#333">40</text><line x1="429.70" y1="449.80" x2="429.70" y2="452.60" stroke="#222" stroke-width="0.8"/><text x="429.70" y="462.20" font-size="6.3" text-anchor="middle" fill="#333">60</text><line x1="443.80" y1="449.80" x2="443.80" y2="452.60" stroke="#222" stroke-width="0.8"/><text x="443.80" y="462.20" font-size="6.3" text-anchor="middle" fill="#333">80</text><text transform="translate(27.6,228.5) rotate(-90) scale(0.665,1)" font-size="8.4" font-weight="bold" text-anchor="middle" fill="#222">Amplifications</text><text transform="translate(27.4,380) rotate(-90) scale(0.645,1)" font-size="8.4" font-weight="bold" text-anchor="middle" fill="#222">Deletions</text><text transform="translate(255.6,475.2) scale(0.69,1)" font-size="8.4" font-weight="bold" text-anchor="middle" fill="#222">% of tumors</text><text x="449.8" y="191.0" font-size="6.6" font-style="italic" fill="#333">NFKBIZ</text><text x="449.8" y="236.1" font-size="6.6" font-style="italic" fill="#333">RIC1, PD-L2</text><text x="449.8" y="269.6" font-size="6.6" font-style="italic" fill="#333">BCL2</text><text x="449.8" y="280.1" font-size="6.6" font-style="italic" fill="#333">EPN1, FIZ1, ZNF579</text><text x="449.8" y="347.9" font-size="6.6" font-style="italic" fill="#333">FHIT</text><text x="449.8" y="368.7" font-size="6.6" font-style="italic" fill="#333">HLA-B</text><text x="449.8" y="380.0" font-size="6.6" font-style="italic" fill="#333">PRDM1</text><text x="449.8" y="401.2" font-size="6.6" font-style="italic" fill="#333">CDKN2A</text><text x="126.60" y="369.60" font-size="5.6" text-anchor="end" fill="#333"><tspan font-style="italic">P</tspan> = 6.68×10<tspan font-size="3.6" dy="-1.8">−7</tspan></text><text x="125.10" y="374.90" font-size="5.6" text-anchor="end" fill="#333"><tspan font-style="italic">P</tspan> = .039</text><text x="125.10" y="380.20" font-size="5.6" text-anchor="end" fill="#333"><tspan font-style="italic">P</tspan> = .018</text><text x="125.10" y="401.40" font-size="5.6" text-anchor="end" fill="#333"><tspan font-style="italic">P</tspan> = n.s.</text><text x="189.90" y="369.60" font-size="5.6" text-anchor="end" fill="#333"><tspan font-style="italic">P</tspan> = .005</text><text x="189.90" y="374.90" font-size="5.6" text-anchor="end" fill="#333"><tspan font-style="italic">P</tspan> = .138</text><text x="189.90" y="380.20" font-size="5.6" text-anchor="end" fill="#333"><tspan font-style="italic">P</tspan> = .138</text><text x="189.90" y="401.40" font-size="5.6" text-anchor="end" fill="#333"><tspan font-style="italic">P</tspan> = n.s.</text><text x="255.20" y="369.60" font-size="5.6" text-anchor="end" fill="#333"><tspan font-style="italic">P</tspan> = 1.54×10<tspan font-size="3.6" dy="-1.8">−5</tspan></text><text x="253.70" y="374.90" font-size="5.6" text-anchor="end" fill="#333"><tspan font-style="italic">P</tspan> = .018</text><text x="253.70" y="380.20" font-size="5.6" text-anchor="end" fill="#333"><tspan font-style="italic">P</tspan> = .025</text><text x="253.70" y="401.40" font-size="5.6" text-anchor="end" fill="#333"><tspan font-style="italic">P</tspan> = .056</text><text x="320.00" y="369.60" font-size="5.6" text-anchor="end" fill="#333"><tspan font-style="italic">P</tspan> = n.s.</text><text x="320.00" y="374.90" font-size="5.6" text-anchor="end" fill="#333"><tspan font-style="italic">P</tspan> = n.s.</text><text x="320.00" y="380.20" font-size="5.6" text-anchor="end" fill="#333"><tspan font-style="italic">P</tspan> = n.s.</text><text x="320.00" y="401.40" font-size="5.6" text-anchor="end" fill="#333"><tspan font-style="italic">P</tspan> = n.s.</text><text x="383.80" y="369.60" font-size="5.6" text-anchor="end" fill="#333"><tspan font-style="italic">P</tspan> = n.s.</text><text x="383.80" y="374.90" font-size="5.6" text-anchor="end" fill="#333"><tspan font-style="italic">P</tspan> = n.s.</text><text x="383.80" y="380.20" font-size="5.6" text-anchor="end" fill="#333"><tspan font-style="italic">P</tspan> = n.s.</text><text x="383.80" y="401.40" font-size="5.6" text-anchor="end" fill="#333"><tspan font-style="italic">P</tspan> = n.s.</text><rect x="74.2" y="490.7" width="375.52" height="116.00" fill="#f2f2f2"/><rect x="87.63" y="490.7" width="1.1" height="116.00" fill="#ffffff"/><rect x="102.12" y="490.7" width="1.1" height="116.00" fill="#ffffff"/><rect x="116.60" y="490.7" width="1.1" height="116.00" fill="#ffffff"/><rect x="131.08" y="490.7" width="1.1" height="116.00" fill="#ffffff"/><rect x="145.56" y="490.7" width="1.1" height="116.00" fill="#ffffff"/><rect x="160.05" y="490.7" width="1.1" height="116.00" fill="#ffffff"/><rect x="174.53" y="490.7" width="1.1" height="116.00" fill="#ffffff"/><rect x="189.01" y="490.7" width="1.1" height="116.00" fill="#ffffff"/><rect x="203.50" y="490.7" width="1.1" height="116.00" fill="#ffffff"/><rect x="217.98" y="490.7" width="1.1" height="116.00" fill="#ffffff"/><rect x="232.46" y="490.7" width="1.1" height="116.00" fill="#ffffff"/><rect x="246.95" y="490.7" width="1.1" height="116.00" fill="#ffffff"/><rect x="261.43" y="490.7" width="1.1" height="116.00" fill="#ffffff"/><rect x="275.91" y="490.7" width="1.1" height="116.00" fill="#ffffff"/><rect x="290.39" y="490.7" width="1.1" height="116.00" fill="#ffffff"/><rect x="304.88" y="490.7" width="1.1" height="116.00" fill="#ffffff"/><rect x="319.36" y="490.7" width="1.1" height="116.00" fill="#ffffff"/><rect x="333.84" y="490.7" width="1.1" height="116.00" fill="#ffffff"/><rect x="348.33" y="490.7" width="1.1" height="116.00" fill="#ffffff"/><rect x="362.81" y="490.7" width="1.1" height="116.00" fill="#ffffff"/><rect x="377.29" y="490.7" width="1.1" height="116.00" fill="#ffffff"/><rect x="391.78" y="490.7" width="1.1" height="116.00" fill="#ffffff"/><rect x="406.26" y="490.7" width="1.1" height="116.00" fill="#ffffff"/><rect x="420.74" y="490.7" width="1.1" height="116.00" fill="#ffffff"/><rect x="435.22" y="490.7" width="1.1" height="116.00" fill="#ffffff"/><rect x="74.2" y="536.55" width="375.52" height="1.1" fill="#ffffff"/><rect x="74.2" y="582.95" width="375.52" height="1.1" fill="#ffffff"/><line x1="77.12" y1="499.35" x2="84.62" y2="493.25" stroke="#471862" stroke-width="2.95" stroke-linecap="round"/><line x1="91.60" y1="499.35" x2="99.10" y2="493.25" stroke="#471862" stroke-width="2.95" stroke-linecap="round"/><line x1="106.09" y1="499.35" x2="113.59" y2="493.25" stroke="#471862" stroke-width="2.95" stroke-linecap="round"/><line x1="120.57" y1="499.35" x2="128.07" y2="493.25" stroke="#471862" stroke-width="2.95" stroke-linecap="round"/><line x1="135.05" y1="499.35" x2="142.55" y2="493.25" stroke="#471862" stroke-width="2.95" stroke-linecap="round"/><line x1="149.53" y1="499.35" x2="157.03" y2="493.25" stroke="#471862" stroke-width="2.95" stroke-linecap="round"/><line x1="164.02" y1="499.35" x2="171.52" y2="493.25" stroke="#471862" stroke-width="2.95" stroke-linecap="round"/><line x1="178.50" y1="499.35" x2="186.00" y2="493.25" stroke="#471862" stroke-width="2.95" stroke-linecap="round"/><line x1="192.98" y1="499.35" x2="200.48" y2="493.25" stroke="#471862" stroke-width="2.95" stroke-linecap="round"/><line x1="207.47" y1="499.35" x2="214.97" y2="493.25" stroke="#471862" stroke-width="2.95" stroke-linecap="round"/><line x1="221.95" y1="499.35" x2="229.45" y2="493.25" stroke="#471862" stroke-width="2.95" stroke-linecap="round"/><line x1="236.43" y1="499.35" x2="243.93" y2="493.25" stroke="#471862" stroke-width="2.95" stroke-linecap="round"/><line x1="250.92" y1="499.35" x2="258.42" y2="493.25" stroke="#471862" stroke-width="2.95" stroke-linecap="round"/><line x1="77.12" y1="510.95" x2="84.62" y2="504.85" stroke="#471862" stroke-width="2.95" stroke-linecap="round"/><line x1="77.12" y1="522.55" x2="84.62" y2="516.45" stroke="#471862" stroke-width="2.95" stroke-linecap="round"/><line x1="265.40" y1="522.55" x2="272.90" y2="516.45" stroke="#471862" stroke-width="2.95" stroke-linecap="round"/><line x1="279.88" y1="522.55" x2="287.38" y2="516.45" stroke="#471862" stroke-width="2.95" stroke-linecap="round"/><line x1="294.37" y1="522.55" x2="301.87" y2="516.45" stroke="#471862" stroke-width="2.95" stroke-linecap="round"/><line x1="308.85" y1="522.55" x2="316.35" y2="516.45" stroke="#471862" stroke-width="2.95" stroke-linecap="round"/><rect x="88.68" y="525.65" width="13.45" height="11.30" fill="#56699f"/><rect x="320.41" y="525.65" width="13.45" height="11.30" fill="#a6b97c"/><line x1="207.47" y1="534.15" x2="214.97" y2="528.05" stroke="#471862" stroke-width="2.95" stroke-linecap="round"/><line x1="236.43" y1="534.15" x2="243.93" y2="528.05" stroke="#471862" stroke-width="2.95" stroke-linecap="round"/><line x1="279.88" y1="534.15" x2="287.38" y2="528.05" stroke="#471862" stroke-width="2.95" stroke-linecap="round"/><line x1="294.37" y1="534.15" x2="301.87" y2="528.05" stroke="#471862" stroke-width="2.95" stroke-linecap="round"/><rect x="219.03" y="537.25" width="13.45" height="11.30" fill="#56699f"/><rect x="349.38" y="537.25" width="13.45" height="11.30" fill="#56699f"/><rect x="378.34" y="537.25" width="13.45" height="11.30" fill="#56699f"/><line x1="77.12" y1="545.75" x2="84.62" y2="539.65" stroke="#471862" stroke-width="2.95" stroke-linecap="round"/><line x1="265.40" y1="545.75" x2="272.90" y2="539.65" stroke="#471862" stroke-width="2.95" stroke-linecap="round"/><line x1="279.88" y1="545.75" x2="287.38" y2="539.65" stroke="#471862" stroke-width="2.95" stroke-linecap="round"/><line x1="308.85" y1="545.75" x2="316.35" y2="539.65" stroke="#471862" stroke-width="2.95" stroke-linecap="round"/><rect x="378.34" y="548.85" width="13.45" height="11.30" fill="#56699f"/><rect x="392.83" y="548.85" width="13.45" height="11.30" fill="#56699f"/><rect x="276.96" y="548.85" width="13.45" height="11.30" fill="#c5c3dc"/><line x1="77.12" y1="557.35" x2="84.62" y2="551.25" stroke="#471862" stroke-width="2.95" stroke-linecap="round"/><line x1="265.40" y1="557.35" x2="272.90" y2="551.25" stroke="#471862" stroke-width="2.95" stroke-linecap="round"/><line x1="279.88" y1="557.35" x2="287.38" y2="551.25" stroke="#471862" stroke-width="2.95" stroke-linecap="round"/><line x1="308.85" y1="557.35" x2="316.35" y2="551.25" stroke="#471862" stroke-width="2.95" stroke-linecap="round"/><rect x="262.48" y="560.45" width="13.45" height="11.30" fill="#56699f"/><line x1="77.12" y1="568.95" x2="84.62" y2="562.85" stroke="#471862" stroke-width="2.95" stroke-linecap="round"/><line x1="265.40" y1="568.95" x2="272.90" y2="562.85" stroke="#471862" stroke-width="2.95" stroke-linecap="round"/><line x1="308.85" y1="568.95" x2="316.35" y2="562.85" stroke="#471862" stroke-width="2.95" stroke-linecap="round"/><rect x="349.38" y="572.05" width="13.45" height="11.30" fill="#56699f"/><line x1="77.12" y1="580.55" x2="84.62" y2="574.45" stroke="#471862" stroke-width="2.95" stroke-linecap="round"/><line x1="265.40" y1="580.55" x2="272.90" y2="574.45" stroke="#471862" stroke-width="2.95" stroke-linecap="round"/><line x1="308.85" y1="580.55" x2="316.35" y2="574.45" stroke="#471862" stroke-width="2.95" stroke-linecap="round"/><line x1="77.12" y1="592.15" x2="84.62" y2="586.05" stroke="#471862" stroke-width="2.95" stroke-linecap="round"/><line x1="91.60" y1="592.15" x2="99.10" y2="586.05" stroke="#471862" stroke-width="2.95" stroke-linecap="round"/><line x1="135.05" y1="592.15" x2="142.55" y2="586.05" stroke="#471862" stroke-width="2.95" stroke-linecap="round"/><line x1="178.50" y1="592.15" x2="186.00" y2="586.05" stroke="#471862" stroke-width="2.95" stroke-linecap="round"/><line x1="236.43" y1="592.15" x2="243.93" y2="586.05" stroke="#471862" stroke-width="2.95" stroke-linecap="round"/><line x1="250.92" y1="592.15" x2="258.42" y2="586.05" stroke="#471862" stroke-width="2.95" stroke-linecap="round"/><line x1="366.78" y1="592.15" x2="374.28" y2="586.05" stroke="#471862" stroke-width="2.95" stroke-linecap="round"/><line x1="395.75" y1="592.15" x2="403.25" y2="586.05" stroke="#471862" stroke-width="2.95" stroke-linecap="round"/><line x1="424.71" y1="592.15" x2="432.21" y2="586.05" stroke="#471862" stroke-width="2.95" stroke-linecap="round"/><line x1="439.19" y1="592.15" x2="446.69" y2="586.05" stroke="#471862" stroke-width="2.95" stroke-linecap="round"/><rect x="190.06" y="595.25" width="13.45" height="11.30" fill="#56699f"/><text x="70.6" y="498.70" font-size="6.6" text-anchor="end" fill="#333">6q loss</text><text x="453.2" y="498.70" font-size="6.6" fill="#333">50%</text><text x="70.6" y="510.30" font-size="6.6" text-anchor="end" fill="#333" font-style="italic">HLA-A</text><text x="453.2" y="510.30" font-size="6.6" fill="#333">4%</text><text x="70.6" y="521.90" font-size="6.6" text-anchor="end" fill="#333" font-style="italic">HLA-B</text><text x="453.2" y="521.90" font-size="6.6" fill="#333">19%</text><text x="70.6" y="533.50" font-size="6.6" text-anchor="end" fill="#333" font-style="italic">B2M</text><text x="453.2" y="533.50" font-size="6.6" fill="#333">23%</text><text x="70.6" y="545.10" font-size="6.6" text-anchor="end" fill="#333" font-style="italic">HLA-DMA</text><text x="453.2" y="545.10" font-size="6.6" fill="#333">27%</text><text x="70.6" y="556.70" font-size="6.6" text-anchor="end" fill="#333" font-style="italic">HLA-DMB</text><text x="453.2" y="556.70" font-size="6.6" fill="#333">23%</text><text x="70.6" y="568.30" font-size="6.6" text-anchor="end" fill="#333" font-style="italic">HLA-DPB1</text><text x="453.2" y="568.30" font-size="6.6" fill="#333">12%</text><text x="70.6" y="579.90" font-size="6.6" text-anchor="end" fill="#333" font-style="italic">HLA-DQA2</text><text x="453.2" y="579.90" font-size="6.6" fill="#333">15%</text><text x="70.6" y="591.50" font-size="6.6" text-anchor="end" fill="#333">19p13.3</text><text x="453.2" y="591.50" font-size="6.6" fill="#333">38%</text><text x="70.6" y="603.10" font-size="6.6" text-anchor="end" fill="#333" font-style="italic">CIITA</text><text x="453.2" y="603.10" font-size="6.6" fill="#333">4%</text><text transform="translate(32,512.5) rotate(-90)" font-size="6.6" text-anchor="middle" fill="#333">MHC Class I</text><text transform="translate(32,571.3) rotate(-90)" font-size="6.6" text-anchor="middle" fill="#333">MHC Class II</text><rect x="74.20" y="608.9" width="13.45" height="7.8" fill="#f0900c"/><rect x="88.68" y="608.9" width="13.45" height="7.8" fill="#f0900c"/><rect x="103.17" y="608.9" width="13.45" height="7.8" fill="#2ea6de"/><rect x="117.65" y="608.9" width="13.45" height="7.8" fill="#f0900c"/><rect x="132.13" y="608.9" width="13.45" height="7.8" fill="#f0900c"/><rect x="146.62" y="608.9" width="13.45" height="7.8" fill="#2ea6de"/><rect x="161.10" y="608.9" width="13.45" height="7.8" fill="#f0900c"/><rect x="175.58" y="608.9" width="13.45" height="7.8" fill="#f0900c"/><rect x="190.06" y="608.9" width="13.45" height="7.8" fill="#f0900c"/><rect x="204.55" y="608.9" width="13.45" height="7.8" fill="#2ea6de"/><rect x="219.03" y="608.9" width="13.45" height="7.8" fill="#f0900c"/><rect x="233.51" y="608.9" width="13.45" height="7.8" fill="#f0900c"/><rect x="248.00" y="608.9" width="13.45" height="7.8" fill="#f0900c"/><rect x="262.48" y="608.9" width="13.45" height="7.8" fill="#2ea6de"/><rect x="276.96" y="608.9" width="13.45" height="7.8" fill="#f0900c"/><rect x="291.44" y="608.9" width="13.45" height="7.8" fill="#f0900c"/><rect x="305.93" y="608.9" width="13.45" height="7.8" fill="#2ea6de"/><rect x="320.41" y="608.9" width="13.45" height="7.8" fill="#f0900c"/><rect x="334.89" y="608.9" width="13.45" height="7.8" fill="#2ea6de"/><rect x="349.38" y="608.9" width="13.45" height="7.8" fill="#f0900c"/><rect x="363.86" y="608.9" width="13.45" height="7.8" fill="#2ea6de"/><rect x="378.34" y="608.9" width="13.45" height="7.8" fill="#2ea6de"/><rect x="392.83" y="608.9" width="13.45" height="7.8" fill="#2ea6de"/><rect x="407.31" y="608.9" width="13.45" height="7.8" fill="#f0900c"/><rect x="421.79" y="608.9" width="13.45" height="7.8" fill="#c0c0c0"/><rect x="436.27" y="608.9" width="13.45" height="7.8" fill="#f0900c"/><text x="453.9" y="616.2" font-size="6.6" fill="#333">Hans classifier</text><text x="74.2" y="629.6" font-size="6.4" fill="#333">Variant Classification</text><rect x="74.6" y="634.2" width="4.5" height="3.9" fill="#4f5c88"/><text x="80.7" y="638.9" font-size="6.4" fill="#333">Missense Mutation</text><rect x="74.6" y="642.7" width="4.5" height="3.9" fill="#c5c3dc"/><text x="80.7" y="646.8" font-size="6.4" fill="#333">Nonsense Mutation</text><rect x="141.2" y="634.2" width="4.5" height="3.9" fill="#a6b97c"/><text x="147.4" y="638.9" font-size="6.4" fill="#333">Splice Site</text><line x1="142" y1="646.6" x2="145" y2="643.4" stroke="#471862" stroke-width="1" stroke-linecap="round"/><text x="147.4" y="646.8" font-size="6.4" fill="#333">Deletion</text><text x="205" y="628.8" font-size="6.4" fill="#333">Hans classifier</text><rect x="205.5" y="633.8" width="4.3" height="3.9" fill="#2a9bd2"/><text x="212" y="638.1" font-size="6.6" fill="#333">GCB</text><rect x="205.5" y="643" width="4.3" height="3.9" fill="#e8900f"/><text x="212" y="647.2" font-size="6.6" fill="#333">non–GCB</text><rect x="205.5" y="652.3" width="4.3" height="3.9" fill="#c6c3d3"/><text x="212" y="656.5" font-size="6.4" fill="#333">not immunoreactive</text>
</svg>
</body></html>
